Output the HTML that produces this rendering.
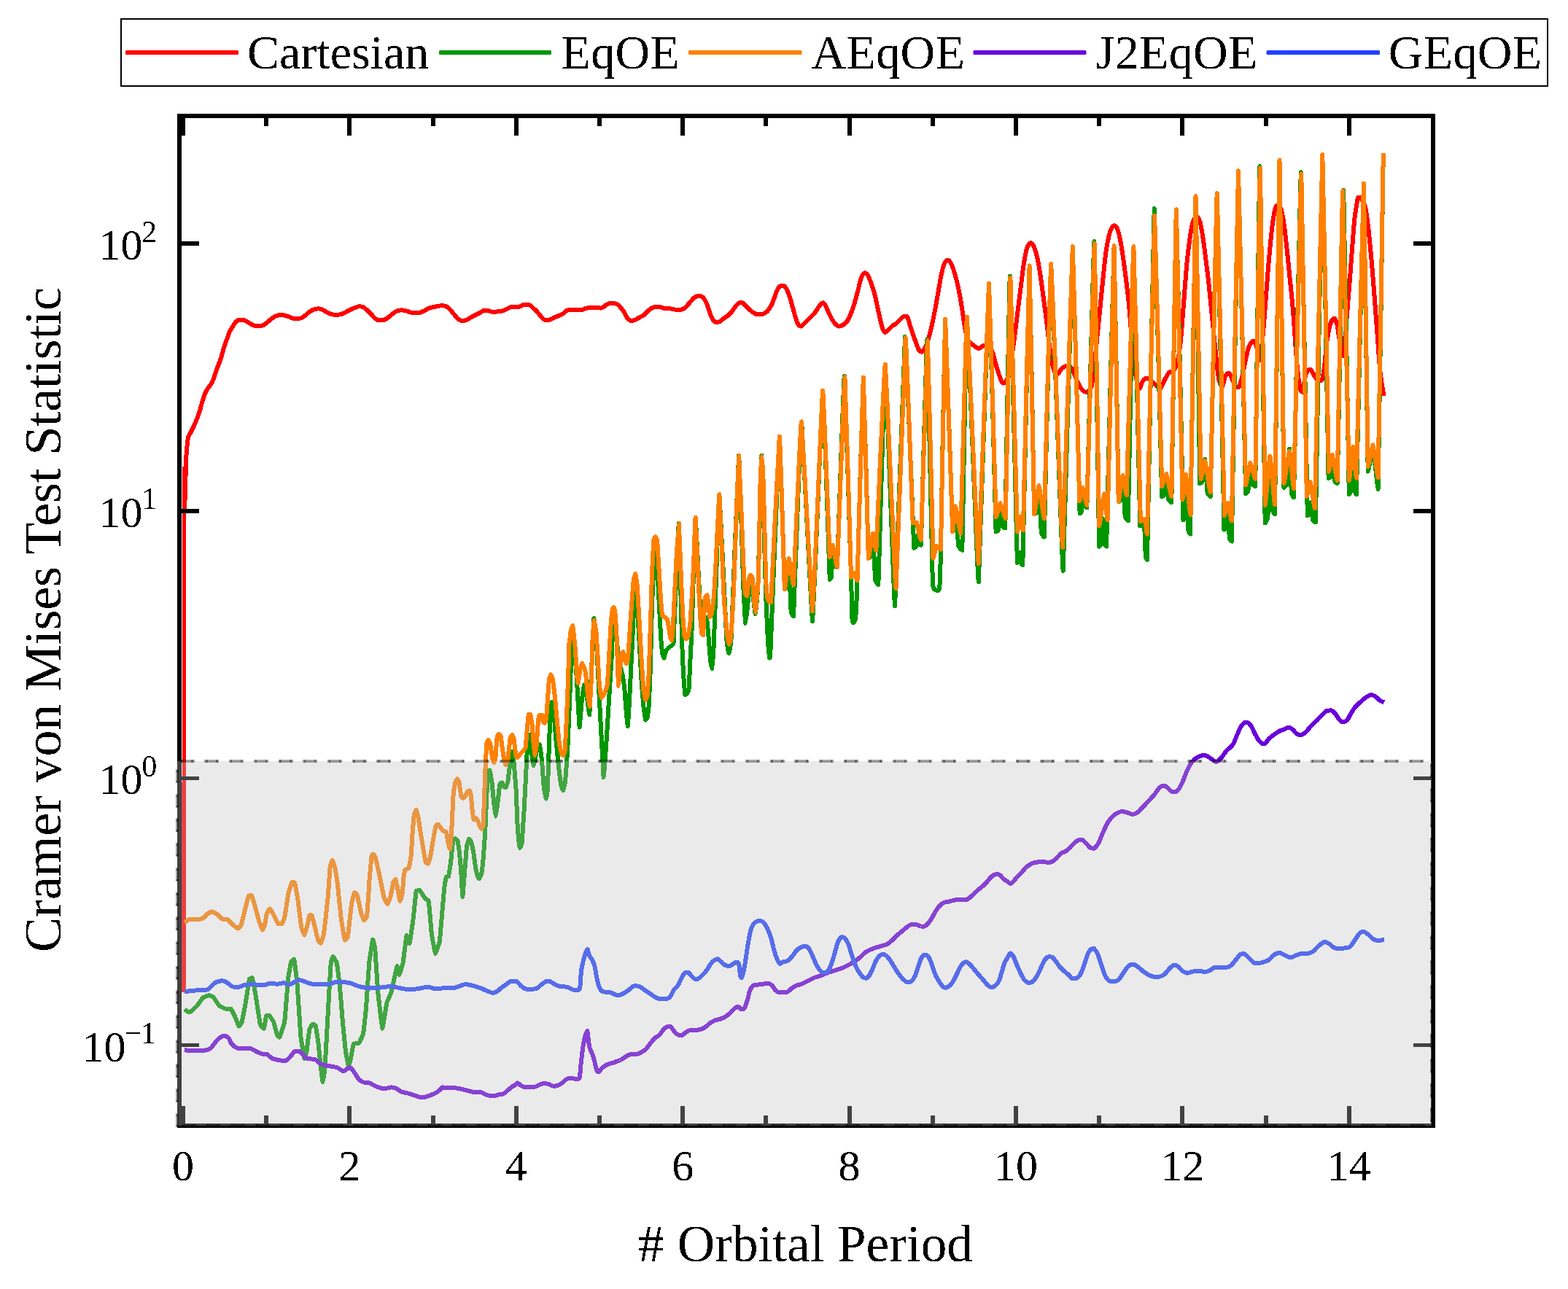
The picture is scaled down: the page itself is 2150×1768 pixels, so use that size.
<!DOCTYPE html>
<html lang="en"><head><meta charset="utf-8"><title>Cramer von Mises Test Statistic</title>
<style>html,body{margin:0;padding:0;background:#fff}body{width:2150px;height:1768px;overflow:hidden}svg{display:block}text{font-family:'Liberation Serif', 'DejaVu Serif', serif;fill:#000}</style>
</head><body>
<svg width="2150" height="1768" viewBox="0 0 2150 1768">
<defs><filter id="crisp" x="-5%" y="-5%" width="110%" height="110%" color-interpolation-filters="sRGB"><feComponentTransfer><feFuncA type="discrete" tableValues="0 1"/></feComponentTransfer></filter></defs>
<rect width="2150" height="1768" fill="#fff"/>
<g fill="#ff0000" shape-rendering="crispEdges"><rect x="249" y="1073" width="6" height="288"/><rect x="250" y="640" width="5" height="434"/></g>
<g fill="none" stroke-width="6" stroke-linejoin="round" stroke-linecap="butt" shape-rendering="crispEdges" transform="scale(1,1.00)">
<path stroke="#ff0000" d="M252.6,700.0 C252.7,698.5 253.0,692.6 253.2,690.0 C253.4,687.4 253.4,690.0 253.7,682.4 C254.0,673.8 254.7,642.6 255.1,632.0 C255.5,621.5 256.1,616.7 256.5,611.9 C257.0,607.0 257.5,602.5 258.1,599.8 C258.8,597.1 260.1,595.8 261.2,593.7 C262.2,591.6 264.0,588.2 265.2,585.7 C266.4,583.1 268.0,579.6 269.2,576.6 C270.4,573.6 272.1,569.3 273.3,565.5 C274.5,561.7 276.1,555.3 277.3,551.4 C278.5,547.5 280.1,542.2 281.3,539.3 C282.5,536.4 284.0,534.4 285.4,532.2 C286.7,530.1 289.0,527.7 290.4,525.2 C291.8,522.6 293.2,518.4 294.4,515.1 C295.7,511.8 297.3,506.3 298.5,503.0 C299.7,499.7 301.3,496.5 302.5,492.9 C303.7,489.3 305.3,482.7 306.5,478.8 C307.7,474.9 309.4,470.2 310.6,466.7 C311.8,463.2 313.4,458.3 314.6,455.6 C315.8,452.9 317.4,450.5 318.6,448.6 C319.8,446.6 321.5,443.9 322.7,442.5 C323.9,441.1 325.5,439.7 326.7,439.1 C327.9,438.5 329.4,438.5 330.7,438.5 C332.1,438.6 334.3,439.1 335.8,439.7 C337.3,440.3 339.3,441.6 340.8,442.5 C342.3,443.4 344.3,444.8 345.9,445.5 C347.4,446.2 349.2,446.9 350.9,447.1 C352.6,447.1 355.3,447.1 356.9,447.1 C358.6,446.9 360.5,446.4 362.0,445.5 C363.5,444.7 365.5,442.7 367.0,441.5 C368.5,440.3 370.6,438.6 372.1,437.5 C373.6,436.3 375.6,434.8 377.1,434.0 C378.6,433.3 380.3,432.7 382.2,432.4 C384.0,432.4 387.2,432.4 389.2,432.4 C391.2,432.7 393.4,433.4 395.3,434.0 C397.1,434.6 399.5,435.9 401.3,436.5 C403.1,437.0 405.5,437.5 407.4,437.5 C409.2,437.4 411.7,436.7 413.4,436.1 C415.1,435.4 416.9,434.0 418.4,432.8 C420.0,431.7 421.8,429.6 423.5,428.4 C425.1,427.2 427.6,425.5 429.5,424.8 C431.5,424.0 434.8,423.4 436.6,423.4 C438.4,423.4 440.0,423.7 441.6,424.4 C443.3,425.1 445.9,427.0 447.7,428.0 C449.5,429.0 451.9,430.2 453.7,430.8 C455.5,431.4 458.0,431.7 459.8,431.8 C461.6,431.8 464.0,431.8 465.8,431.4 C467.6,431.1 470.1,430.2 471.9,429.4 C473.7,428.6 476.0,427.0 477.9,426.0 C479.9,425.0 482.9,423.6 485.0,422.7 C487.1,421.9 490.1,420.5 492.0,420.3 C494.0,420.3 496.3,420.5 498.1,421.3 C499.9,422.2 502.3,424.3 504.1,426.0 C506.0,427.6 508.5,430.7 510.2,432.4 C511.9,434.1 513.7,436.4 515.2,437.5 C516.7,438.5 518.6,439.3 520.3,439.5 C521.9,439.5 524.5,439.5 526.3,438.9 C528.1,438.3 530.6,436.7 532.4,435.4 C534.2,434.2 536.6,431.8 538.4,430.4 C540.2,429.0 542.7,427.1 544.5,426.4 C546.3,425.6 548.7,425.4 550.5,425.4 C552.3,425.4 554.7,425.9 556.6,426.4 C558.4,426.8 560.8,427.9 562.6,428.4 C564.4,428.8 566.8,429.3 568.7,429.4 C570.5,429.4 572.9,429.4 574.7,429.0 C576.5,428.6 578.9,427.6 580.8,426.8 C582.6,425.9 585.0,424.2 586.8,423.4 C588.6,422.5 591.0,421.8 592.9,421.3 C594.7,420.9 597.1,420.6 598.9,420.3 C600.7,420.0 603.1,419.4 605.0,419.3 C606.8,419.3 609.3,419.3 611.0,419.9 C612.7,420.5 614.5,421.9 616.0,423.4 C617.6,424.8 619.6,427.6 621.1,429.4 C622.6,431.2 624.6,433.9 626.1,435.4 C627.6,437.0 629.7,438.8 631.2,439.5 C632.7,439.9 634.7,439.9 636.2,439.9 C637.7,439.7 639.6,438.9 641.3,438.1 C642.9,437.3 645.5,435.4 647.3,434.4 C649.1,433.4 651.7,432.3 653.3,431.4 C655.0,430.6 656.9,429.6 658.4,428.8 C659.9,428.0 661.7,426.4 663.2,426.0 C664.7,426.0 666.7,426.0 668.2,426.0 C669.7,426.2 671.8,427.1 673.3,427.4 C674.8,427.7 676.8,428.0 678.3,428.0 C679.8,428.0 681.8,427.2 683.4,427.0 C684.9,426.8 686.7,427.0 688.4,426.6 C690.1,426.2 692.6,424.9 694.4,424.0 C696.3,423.2 698.7,421.5 700.5,421.0 C702.3,420.6 704.7,420.6 706.5,420.6 C708.4,420.6 710.9,420.6 712.6,420.6 C714.3,420.2 716.1,418.4 717.6,418.0 C719.1,417.6 721.3,417.6 722.7,417.6 C724.0,417.6 725.3,417.6 726.7,418.4 C728.1,419.2 730.2,421.5 731.7,423.0 C733.3,424.4 735.3,426.4 736.8,428.0 C738.3,429.7 740.5,432.6 741.8,434.1 C743.2,435.6 744.6,437.4 745.9,438.1 C747.1,438.9 748.5,439.1 749.9,439.1 C751.3,439.1 753.3,438.7 754.9,438.1 C756.6,437.5 759.2,435.9 761.0,435.1 C762.8,434.3 765.4,433.4 767.0,432.7 C768.7,431.9 770.6,431.1 772.1,430.1 C773.6,429.1 775.7,426.8 777.1,426.0 C778.5,425.2 779.3,424.8 781.1,424.6 C783.0,424.6 786.8,425.0 789.2,425.0 C791.6,425.0 795.2,425.0 797.3,425.0 C799.4,424.7 801.4,423.5 803.3,423.0 C805.3,422.5 808.3,421.8 810.4,421.6 C812.5,421.6 815.5,421.6 817.4,421.6 C819.4,421.7 822.0,422.6 823.5,422.6 C825.0,422.5 826.3,421.7 827.5,421.0 C828.7,420.3 830.2,418.7 831.6,418.0 C832.9,417.2 835.1,416.2 836.6,415.9 C838.1,415.9 840.1,415.9 841.6,415.9 C843.1,416.2 845.2,416.6 846.7,417.6 C848.2,418.6 850.4,421.0 851.7,422.6 C853.1,424.2 854.7,426.3 855.7,428.0 C856.8,429.8 857.9,432.6 858.8,434.1 C859.7,435.6 860.7,437.2 861.8,438.1 C862.9,439.0 864.5,440.0 865.8,440.1 C867.2,440.1 869.2,439.4 870.9,438.7 C872.5,438.0 875.1,436.5 876.9,435.5 C878.7,434.5 881.3,433.3 883.0,432.1 C884.6,430.8 886.5,428.4 888.0,427.0 C889.5,425.7 891.5,423.9 893.0,423.0 C894.6,422.1 896.4,421.3 898.1,421.0 C899.8,421.0 902.3,421.0 904.1,421.0 C906.0,421.2 908.2,422.3 910.2,422.6 C912.2,422.9 915.1,422.7 917.2,423.0 C919.4,423.3 922.2,424.1 924.3,424.4 C926.4,424.7 929.4,425.0 931.4,425.0 C933.3,424.9 935.7,424.3 937.4,423.4 C939.1,422.5 940.9,420.5 942.4,419.0 C944.0,417.4 946.0,414.6 947.5,412.9 C949.0,411.3 951.0,408.9 952.5,407.9 C954.0,406.8 956.2,406.1 957.6,405.9 C958.9,405.9 960.4,405.9 961.6,406.5 C962.8,407.1 964.4,408.2 965.6,409.9 C966.8,411.6 968.6,415.4 969.7,418.0 C970.7,420.5 971.8,424.5 972.7,427.0 C973.6,429.6 974.8,433.1 975.7,435.1 C976.6,437.1 977.7,439.1 978.7,440.1 C979.8,441.2 981.6,442.0 982.8,442.2 C984.0,442.2 985.4,441.9 986.8,441.1 C988.2,440.4 990.2,438.3 991.8,437.1 C993.5,435.9 996.2,434.4 997.9,433.1 C999.6,431.7 1001.4,429.9 1002.9,428.0 C1004.5,426.2 1006.6,422.7 1008.0,421.0 C1009.3,419.3 1010.8,417.5 1012.0,416.5 C1013.2,415.6 1015.0,415.0 1016.0,414.9 C1017.1,414.9 1018.0,415.2 1019.1,415.9 C1020.1,416.7 1021.7,418.6 1023.1,420.0 C1024.5,421.3 1026.6,423.7 1028.1,425.0 C1029.7,426.4 1031.7,428.1 1033.2,429.0 C1034.7,430.0 1037.2,431.2 1038.2,431.5 C1039.2,431.5 1038.8,431.0 1040.0,430.9 C1041.2,430.9 1044.2,430.9 1046.0,430.9 C1047.9,430.3 1050.3,428.8 1052.1,426.8 C1053.9,424.9 1056.3,421.5 1058.1,417.8 C1060.0,414.0 1062.7,405.3 1064.2,401.6 C1065.7,398.0 1067.0,395.1 1068.2,393.6 C1069.5,392.1 1071.3,391.6 1072.7,391.6 C1074.0,391.7 1075.9,392.5 1077.3,394.6 C1078.8,396.7 1081.0,401.9 1082.3,405.7 C1083.7,409.4 1085.2,415.5 1086.4,419.8 C1087.6,424.0 1089.2,430.1 1090.4,433.9 C1091.6,437.7 1093.2,442.9 1094.4,445.0 C1095.7,447.0 1097.0,447.6 1098.5,447.6 C1100.0,447.2 1102.7,443.7 1104.5,442.0 C1106.3,440.2 1108.8,437.7 1110.6,435.9 C1112.4,434.1 1114.8,432.1 1116.6,429.9 C1118.4,427.6 1121.3,422.8 1122.7,420.8 C1124.0,418.8 1124.8,417.6 1125.7,416.8 C1126.6,415.9 1127.8,415.3 1128.7,415.3 C1129.6,415.6 1130.7,416.9 1131.7,418.8 C1132.8,420.6 1134.4,425.0 1135.8,427.8 C1137.1,430.7 1139.3,435.4 1140.8,437.9 C1142.3,440.5 1144.4,443.5 1145.9,445.0 C1147.3,446.4 1148.8,447.6 1150.5,447.6 C1152.2,447.6 1155.2,446.1 1156.9,445.0 C1158.7,443.8 1160.6,441.9 1162.0,439.9 C1163.3,438.0 1164.7,435.2 1166.0,431.9 C1167.4,428.6 1169.5,422.6 1171.1,417.8 C1172.6,412.9 1174.7,404.8 1176.1,399.6 C1177.5,394.5 1179.1,387.0 1180.1,383.5 C1181.2,380.0 1182.3,377.8 1183.2,376.4 C1184.0,375.1 1184.9,374.4 1185.8,374.4 C1186.7,374.4 1187.9,374.5 1189.2,376.4 C1190.5,378.4 1192.7,383.4 1194.2,387.5 C1195.8,391.6 1197.9,398.5 1199.3,403.6 C1200.7,408.8 1202.1,416.4 1203.3,421.8 C1204.5,427.2 1206.3,435.6 1207.4,439.9 C1208.4,444.3 1209.5,448.6 1210.4,451.0 C1211.3,453.5 1212.2,455.9 1213.4,456.1 C1214.6,456.1 1216.9,453.4 1218.4,452.0 C1220.0,450.7 1222.0,448.2 1223.5,447.0 C1225.0,445.8 1227.0,445.2 1228.5,444.0 C1230.0,442.8 1232.2,440.3 1233.6,438.9 C1234.9,437.6 1236.4,435.7 1237.6,434.9 C1238.8,434.1 1240.6,433.5 1241.6,433.5 C1242.7,433.6 1243.8,434.0 1244.7,435.9 C1245.6,437.8 1246.6,442.7 1247.7,446.0 C1248.7,449.3 1250.4,454.2 1251.7,458.1 C1253.1,462.0 1255.4,468.7 1256.8,472.2 C1258.1,475.7 1259.7,479.7 1260.8,481.3 C1261.8,482.7 1262.8,482.7 1263.8,482.7 C1264.9,482.2 1266.6,480.4 1267.8,478.3 C1269.1,476.1 1270.5,472.4 1271.9,468.2 C1273.2,463.9 1275.4,456.4 1276.9,450.0 C1278.4,443.7 1280.4,433.7 1282.0,425.8 C1283.5,418.0 1285.6,405.2 1287.0,397.6 C1288.4,390.0 1289.8,380.9 1291.0,375.4 C1292.2,370.0 1293.8,364.1 1295.1,361.3 C1296.3,358.5 1298.1,356.9 1299.5,356.9 C1300.9,356.9 1302.7,358.5 1304.1,361.3 C1305.6,364.1 1307.7,370.3 1309.2,375.4 C1310.7,380.6 1312.9,389.2 1314.2,395.6 C1315.6,401.9 1317.2,411.4 1318.3,417.8 C1319.3,424.1 1320.4,432.2 1321.3,437.9 C1322.2,443.7 1323.2,451.5 1324.3,456.1 C1325.4,460.6 1326.8,465.6 1328.3,468.2 C1329.8,470.7 1332.9,472.0 1334.4,473.2 C1335.9,474.4 1337.2,475.5 1338.4,476.2 C1339.6,476.9 1340.9,477.9 1342.4,477.9 C1344.0,477.5 1346.7,474.9 1348.5,474.2 C1350.3,473.5 1352.7,473.2 1354.5,473.2 C1356.4,474.4 1359.1,478.8 1360.6,482.3 C1362.1,485.8 1363.4,492.2 1364.6,496.4 C1365.8,500.6 1367.5,506.7 1368.7,510.5 C1369.9,514.3 1371.6,519.3 1372.7,521.6 C1373.8,523.9 1374.5,525.6 1375.7,525.6 C1376.9,525.5 1379.4,524.1 1380.8,520.6 C1382.1,517.1 1383.4,509.7 1384.8,502.4 C1386.2,495.2 1388.3,482.8 1389.8,472.2 C1391.3,461.6 1393.4,444.0 1394.9,431.9 C1396.4,419.8 1398.6,402.1 1399.9,391.6 C1401.3,381.0 1402.7,368.9 1403.9,361.3 C1405.2,353.7 1406.6,345.4 1408.0,341.1 C1409.3,336.9 1411.5,333.4 1413.0,333.1 C1414.5,333.1 1416.6,335.5 1418.1,339.1 C1419.6,342.8 1421.7,350.9 1423.1,357.3 C1424.5,363.6 1425.9,373.3 1427.1,381.5 C1428.3,389.6 1430.0,402.6 1431.2,411.7 C1432.4,420.8 1434.1,433.5 1435.2,442.0 C1436.3,450.4 1437.3,460.9 1438.2,468.2 C1439.1,475.4 1440.3,484.9 1441.3,490.4 C1442.2,495.8 1443.2,500.8 1444.3,504.5 C1445.3,508.1 1447.4,513.2 1448.3,514.5 C1449.2,514.5 1448.8,514.5 1450.0,513.6 C1451.2,512.3 1454.2,507.3 1456.0,505.6 C1457.9,503.8 1460.1,502.3 1462.1,502.1 C1464.1,502.1 1467.0,502.1 1469.2,504.5 C1471.3,507.3 1474.2,516.4 1476.2,520.7 C1478.2,524.9 1480.3,530.2 1482.3,532.8 C1484.2,535.3 1487.2,537.8 1489.3,537.8 C1491.4,537.5 1494.7,536.1 1496.4,530.8 C1498.0,525.5 1499.2,512.8 1500.4,502.5 C1501.6,492.2 1503.2,474.3 1504.4,462.2 C1505.7,450.1 1507.3,434.0 1508.5,421.9 C1509.7,409.8 1511.3,393.0 1512.5,381.6 C1513.7,370.1 1515.3,354.0 1516.5,345.3 C1517.7,336.5 1519.4,328.1 1520.6,323.1 C1521.8,318.1 1523.5,314.0 1524.6,312.0 C1525.7,309.9 1527.0,309.4 1528.0,309.4 C1529.1,309.5 1530.5,310.3 1531.7,313.0 C1532.8,315.7 1534.5,321.4 1535.7,327.1 C1536.9,332.9 1538.5,343.1 1539.7,351.3 C1540.9,359.5 1542.5,371.9 1543.8,381.6 C1545.0,391.2 1546.7,405.2 1547.8,415.8 C1548.9,426.4 1549.9,442.1 1550.8,452.1 C1551.7,462.1 1553.1,474.5 1553.8,482.4 C1554.6,490.2 1555.1,498.5 1555.9,504.5 C1556.6,510.6 1557.9,518.5 1558.9,522.7 C1559.9,526.9 1561.3,532.8 1562.5,532.8 C1563.7,532.8 1565.5,524.8 1566.9,522.7 C1568.4,520.6 1570.2,518.7 1572.0,518.7 C1573.8,518.7 1576.8,520.9 1579.0,522.7 C1581.3,524.5 1585.3,529.2 1587.1,530.8 C1588.9,532.3 1589.6,532.8 1591.1,532.8 C1592.7,531.3 1595.4,524.0 1597.2,520.7 C1599.0,517.4 1601.4,512.4 1603.2,510.6 C1605.1,508.8 1607.5,510.6 1609.3,508.6 C1611.1,505.9 1613.8,499.4 1615.3,492.4 C1616.9,485.5 1618.2,474.3 1619.4,462.2 C1620.6,450.1 1622.2,426.9 1623.4,411.8 C1624.6,396.7 1626.2,374.1 1627.4,361.4 C1628.6,348.7 1630.3,335.6 1631.5,327.1 C1632.7,318.6 1634.1,309.5 1635.5,304.9 C1636.9,300.4 1639.0,296.9 1640.5,296.9 C1642.1,296.9 1644.2,300.4 1645.6,304.9 C1646.9,309.5 1648.4,319.2 1649.6,327.1 C1650.8,335.0 1652.4,347.7 1653.6,357.4 C1654.9,367.0 1656.5,380.4 1657.7,391.6 C1658.9,402.8 1660.5,419.9 1661.7,432.0 C1662.9,444.1 1664.7,461.7 1665.7,472.3 C1666.8,482.9 1667.9,495.0 1668.8,502.5 C1669.7,510.1 1670.7,518.5 1671.8,522.7 C1672.9,526.9 1674.6,530.8 1675.8,530.8 C1677.0,529.9 1678.5,519.5 1679.9,516.6 C1681.2,513.8 1683.4,511.6 1684.9,511.6 C1686.4,512.2 1688.4,517.8 1689.9,520.7 C1691.5,523.6 1693.6,529.2 1695.0,530.8 C1696.3,530.8 1697.7,530.8 1699.0,530.8 C1700.4,528.0 1702.7,518.4 1704.1,512.6 C1705.4,506.9 1706.9,497.9 1708.1,492.4 C1709.3,487.0 1710.9,479.8 1712.1,476.3 C1713.3,472.8 1715.1,470.5 1716.2,469.3 C1717.2,468.0 1718.1,467.9 1719.2,467.9 C1720.2,468.9 1721.9,472.3 1723.2,476.3 C1724.5,480.3 1726.5,494.5 1727.9,494.5 C1729.2,490.8 1731.0,466.0 1732.3,452.1 C1733.6,438.2 1735.1,416.8 1736.3,401.7 C1737.5,386.6 1739.1,364.9 1740.4,351.3 C1741.6,337.7 1743.2,320.7 1744.4,311.0 C1745.6,301.3 1747.3,291.2 1748.4,286.8 C1749.5,282.4 1750.6,281.7 1751.8,281.7 C1753.1,281.7 1755.2,283.0 1756.5,286.8 C1757.8,290.6 1759.3,298.8 1760.5,306.9 C1761.7,315.1 1763.3,330.0 1764.5,341.2 C1765.8,352.4 1767.4,369.5 1768.6,381.6 C1769.8,393.6 1771.6,409.8 1772.6,421.9 C1773.7,434.0 1774.7,450.1 1775.6,462.2 C1776.5,474.3 1777.7,492.2 1778.7,502.5 C1779.7,512.8 1781.2,525.5 1782.3,530.8 C1783.4,536.1 1784.4,537.8 1785.7,537.8 C1787.0,535.1 1789.1,517.3 1790.8,512.6 C1792.4,507.9 1795.0,506.6 1796.8,506.6 C1798.6,507.2 1801.2,514.2 1802.9,516.6 C1804.5,519.1 1806.4,522.1 1807.9,522.7 C1809.4,522.7 1811.7,522.7 1812.9,520.7 C1814.1,517.7 1815.1,509.8 1816.0,502.5 C1816.9,495.3 1817.9,480.5 1819.0,472.3 C1820.0,464.1 1821.8,453.2 1823.0,448.1 C1824.2,442.9 1826.0,439.7 1827.1,438.0 C1828.1,437.0 1829.2,437.0 1830.1,437.0 C1831.0,437.9 1832.2,440.3 1833.1,444.1 C1834.0,447.8 1835.2,456.8 1836.1,462.2 C1837.0,467.6 1838.2,476.4 1839.2,480.4 C1840.1,484.3 1841.3,488.4 1842.2,488.4 C1843.1,484.2 1844.0,466.6 1845.2,452.1 C1846.4,437.6 1849.0,406.8 1850.2,391.6 C1851.5,376.5 1852.2,364.9 1853.3,351.3 C1854.3,337.7 1856.1,312.4 1857.3,300.9 C1858.5,289.4 1860.5,279.2 1861.3,274.7 C1862.2,270.6 1861.9,270.6 1862.9,270.6 C1864.0,270.6 1866.6,272.0 1868.1,275.0 C1869.7,278.1 1871.5,278.9 1873.3,290.6 C1875.1,302.3 1878.2,330.5 1880.2,352.8 C1882.3,375.1 1885.3,415.9 1887.1,439.2 C1889.0,462.5 1890.8,492.8 1892.3,508.3 C1893.9,523.9 1896.7,537.7 1897.5,542.9"/>
<path stroke="#009600" d="M252.9,1384.5 C253.2,1384.7 259.5,1388.5 260.2,1388.5 C260.9,1388.3 269.5,1380.3 270.2,1379.5 C271.0,1378.6 277.7,1368.9 278.3,1368.4 C279.0,1367.8 285.8,1365.4 286.4,1365.3 C286.9,1365.3 291.9,1366.8 292.4,1367.4 C293.0,1367.9 299.8,1378.8 300.5,1379.5 C301.1,1380.1 307.9,1383.3 308.6,1383.5 C309.2,1383.5 316.1,1383.5 316.6,1383.5 C317.2,1384.0 322.2,1394.6 322.7,1395.6 C323.1,1396.6 327.3,1407.4 327.7,1407.7 C328.1,1407.7 331.4,1402.9 331.7,1401.6 C332.1,1400.3 336.4,1377.8 336.8,1375.4 C337.2,1373.1 341.5,1344.5 341.8,1343.2 C342.2,1341.8 345.5,1341.1 345.9,1341.1 C346.2,1341.9 349.4,1358.7 349.9,1361.3 C350.3,1363.9 356.5,1403.7 356.9,1405.7 C357.4,1407.6 361.7,1410.7 362.0,1410.7 C362.3,1410.2 364.7,1394.3 365.0,1393.6 C365.3,1392.8 368.6,1392.6 369.0,1392.6 C369.4,1392.9 374.7,1400.5 375.1,1401.6 C375.5,1402.7 379.8,1418.9 380.1,1419.8 C380.5,1420.6 382.8,1422.8 383.2,1422.8 C383.6,1422.1 389.7,1404.9 390.2,1401.6 C390.7,1398.4 394.9,1344.5 395.3,1341.1 C395.6,1337.8 399.0,1320.0 399.3,1319.0 C399.6,1318.0 403.0,1315.9 403.3,1315.9 C403.6,1317.1 407.0,1343.0 407.4,1347.2 C407.7,1351.4 412.0,1417.6 412.4,1421.8 C412.8,1426.0 417.1,1451.2 417.4,1452.0 C417.8,1452.0 420.2,1443.6 420.5,1442.0 C420.7,1440.3 424.2,1413.2 424.5,1411.7 C424.8,1410.2 428.2,1404.9 428.5,1404.7 C428.8,1404.7 432.2,1405.6 432.6,1406.7 C432.9,1407.8 436.3,1429.7 436.6,1431.9 C436.9,1434.1 439.4,1460.0 439.6,1462.1 C439.9,1464.2 442.4,1484.3 442.6,1484.3 C442.9,1484.3 445.3,1466.6 445.7,1462.1 C446.0,1457.6 450.4,1377.0 450.7,1371.4 C451.0,1365.7 453.5,1323.4 453.7,1321.0 C454.0,1318.6 456.4,1311.9 456.8,1311.9 C457.1,1311.9 461.4,1319.4 461.8,1321.0 C462.2,1322.6 465.5,1348.0 465.8,1351.2 C466.2,1354.5 469.5,1398.0 469.9,1401.6 C470.2,1405.3 473.6,1439.5 473.9,1442.0 C474.2,1444.4 477.6,1461.7 477.9,1462.1 C478.2,1462.1 480.7,1453.3 481.0,1452.0 C481.2,1450.8 484.5,1432.7 485.0,1431.9 C485.4,1431.0 491.5,1431.4 492.0,1430.9 C492.6,1430.3 497.7,1419.7 498.1,1417.8 C498.5,1415.8 501.8,1385.3 502.1,1381.5 C502.4,1377.6 505.8,1324.7 506.2,1321.0 C506.5,1317.3 510.9,1289.5 511.2,1288.7 C511.5,1288.7 513.9,1297.9 514.2,1300.8 C514.5,1303.7 517.9,1356.9 518.3,1361.3 C518.7,1365.7 523.8,1410.1 524.3,1410.7 C524.8,1410.7 529.9,1377.4 530.4,1375.4 C530.8,1373.4 535.8,1363.3 536.4,1361.3 C537.0,1359.3 544.0,1326.0 544.5,1325.0 C544.9,1325.0 547.2,1337.1 547.5,1337.1 C547.8,1336.9 552.1,1323.2 552.5,1321.0 C552.9,1318.8 557.2,1283.8 557.6,1282.7 C557.9,1282.7 561.2,1293.8 561.6,1293.8 C562.0,1292.9 566.3,1263.4 566.6,1260.5 C567.0,1257.6 570.3,1223.8 570.7,1222.2 C571.0,1221.2 575.2,1221.2 575.7,1221.2 C576.2,1221.6 582.3,1231.7 582.8,1232.3 C583.3,1232.9 587.5,1234.4 587.8,1236.3 C588.2,1238.2 591.5,1277.8 591.8,1280.7 C592.2,1283.5 596.4,1307.5 596.9,1307.9 C597.3,1307.9 602.5,1294.2 602.9,1290.7 C603.4,1287.2 608.6,1223.7 609.0,1220.2 C609.4,1216.6 611.8,1203.5 612.0,1202.8 C612.3,1202.1 614.8,1202.8 615.0,1202.0 C615.3,1201.2 617.8,1184.6 618.1,1182.7 C618.3,1180.8 620.8,1155.7 621.1,1154.4 C621.3,1153.1 623.9,1150.5 624.1,1150.4 C624.4,1150.4 626.9,1151.8 627.1,1152.4 C627.4,1153.1 629.4,1164.9 629.6,1166.5 C629.8,1168.2 632.0,1191.4 632.2,1194.0 C632.4,1196.5 634.0,1230.0 634.2,1230.2 C634.4,1230.2 636.6,1202.4 636.8,1200.0 C637.0,1197.6 639.1,1171.4 639.2,1169.8 C639.4,1168.2 639.8,1160.9 640.0,1160.1 C640.2,1159.4 642.8,1151.3 643.0,1151.0 C643.3,1151.0 645.8,1153.4 646.0,1154.1 C646.3,1154.7 648.8,1166.7 649.1,1168.2 C649.3,1169.6 651.9,1189.0 652.1,1190.4 C652.3,1191.7 654.9,1201.8 655.1,1202.4 C655.3,1203.1 656.9,1205.5 657.1,1205.5 C657.3,1205.3 659.9,1199.5 660.2,1198.4 C660.4,1197.3 662.4,1180.5 662.6,1178.3 C662.8,1176.0 665.0,1145.4 665.2,1142.0 C665.4,1138.5 667.1,1094.9 667.2,1091.6 C667.4,1088.2 669.1,1060.7 669.2,1059.3 C669.4,1057.9 671.1,1056.3 671.3,1056.3 C671.5,1056.7 674.0,1069.6 674.3,1071.4 C674.5,1073.2 677.1,1099.7 677.3,1101.6 C677.5,1103.6 679.5,1119.8 679.7,1119.8 C679.9,1119.8 682.1,1103.4 682.3,1101.6 C682.6,1099.9 685.1,1076.6 685.4,1075.4 C685.6,1074.3 688.2,1073.4 688.4,1073.4 C688.6,1073.6 691.2,1079.2 691.4,1079.5 C691.6,1079.7 693.2,1080.5 693.4,1080.5 C693.6,1080.1 696.2,1072.8 696.5,1071.4 C696.7,1070.0 699.3,1046.8 699.5,1045.2 C699.7,1043.6 701.9,1031.1 702.1,1031.1 C702.3,1031.1 704.3,1043.2 704.5,1045.2 C704.7,1047.2 707.3,1078.0 707.5,1081.5 C707.7,1084.9 709.4,1128.9 709.6,1131.9 C709.7,1134.9 711.4,1154.8 711.6,1156.1 C711.7,1157.3 712.8,1163.1 713.0,1163.1 C713.2,1163.1 715.4,1158.1 715.6,1156.1 C715.8,1154.0 718.4,1115.9 718.6,1111.7 C718.9,1107.5 721.5,1055.2 721.7,1051.2 C721.9,1047.3 723.5,1014.6 723.7,1012.9 C723.8,1011.2 725.5,1007.9 725.7,1007.9 C725.9,1008.6 728.5,1029.4 728.7,1031.1 C729.0,1032.8 731.5,1049.8 731.7,1050.2 C731.9,1050.2 733.6,1042.2 733.8,1041.1 C734.0,1040.1 736.5,1025.8 736.8,1025.0 C737.0,1024.2 739.6,1021.0 739.8,1021.0 C740.1,1021.6 742.6,1038.7 742.8,1041.1 C743.1,1043.6 745.6,1079.3 745.9,1081.5 C746.1,1083.6 748.7,1095.6 748.9,1095.6 C749.1,1095.6 750.7,1084.5 750.9,1081.5 C751.1,1078.5 752.8,1025.4 752.9,1021.0 C753.1,1016.5 754.8,972.9 754.9,970.6 C755.1,968.2 756.8,962.5 756.9,962.5 C757.1,962.5 758.8,968.6 759.0,970.6 C759.2,972.5 761.7,1007.7 762.0,1010.9 C762.3,1014.1 765.7,1048.6 766.0,1051.2 C766.3,1053.8 768.8,1074.1 769.0,1075.4 C769.3,1076.8 771.8,1084.5 772.1,1084.5 C772.3,1084.3 774.9,1073.5 775.1,1071.4 C775.3,1069.3 777.9,1035.5 778.1,1031.1 C778.4,1026.6 780.9,967.4 781.1,960.5 C781.4,953.6 784.8,859.2 785.2,858.1 C785.6,858.1 790.6,927.3 791.0,932.8 C791.3,938.4 794.3,996.5 794.6,997.6 C794.8,997.6 797.5,964.0 797.7,961.6 C798.0,959.3 800.8,939.6 801.0,939.3 C801.3,939.3 804.4,952.8 804.6,954.4 C804.9,956.1 808.0,980.4 808.3,980.4 C808.5,978.9 810.9,923.7 811.1,918.4 C811.4,913.1 814.2,849.9 814.4,848.1 C814.7,848.1 817.1,866.5 817.6,875.2 C818.1,883.9 827.0,1060.8 827.6,1066.2 C828.1,1066.2 831.7,1014.2 832.0,1010.0 C832.3,1005.9 834.6,965.9 834.9,961.6 C835.2,957.4 838.2,909.2 838.5,904.0 C838.8,898.9 841.3,833.0 841.7,833.0 C842.1,833.0 847.7,900.3 848.1,904.0 C848.6,907.7 853.3,923.9 853.6,925.6 C854.0,927.4 856.3,945.2 856.5,947.2 C856.7,949.3 858.5,974.1 858.7,976.0 C858.8,978.0 860.6,996.2 860.8,996.2 C861.0,995.6 862.8,964.8 863.0,961.6 C863.2,958.5 864.9,922.5 865.1,918.4 C865.3,914.4 867.8,866.1 868.0,860.8 C868.3,855.6 870.7,787.1 871.2,787.1 C871.7,790.0 879.1,925.6 879.5,932.8 C880.0,940.1 882.2,966.7 882.4,968.8 C882.7,971.0 885.1,986.9 885.3,987.6 C885.5,987.6 887.3,985.4 887.5,984.7 C887.6,983.9 889.5,971.5 889.6,968.8 C889.8,966.2 891.6,923.9 891.8,918.4 C892.0,913.0 893.7,839.3 893.9,832.0 C894.2,824.7 898.2,736.1 898.6,736.1 C899.0,736.1 903.7,826.4 904.0,832.0 C904.3,837.6 906.0,872.6 906.2,875.2 C906.4,877.8 908.2,895.7 908.4,896.8 C908.5,897.9 910.3,902.6 910.5,902.6 C910.7,902.4 913.1,893.1 913.4,892.5 C913.7,891.9 916.7,888.5 917.0,888.2 C917.3,887.9 921.1,885.5 921.3,885.3 C921.6,885.1 923.3,884.0 923.5,882.4 C923.6,880.9 924.6,853.0 924.9,846.4 C925.2,839.8 930.4,717.9 930.8,717.9 C931.2,719.1 934.7,866.9 935.0,875.2 C935.2,883.5 937.0,922.5 937.2,925.6 C937.3,928.7 939.1,952.0 939.3,953.0 C939.5,953.0 942.0,951.9 942.2,951.6 C942.4,951.2 944.5,946.3 944.6,944.4 C944.8,942.5 946.4,907.4 946.5,904.0 C946.7,900.7 948.4,868.6 948.7,860.8 C949.0,853.0 953.1,709.7 953.6,709.7 C954.1,709.7 961.0,855.4 961.6,860.8 C962.3,860.8 968.4,846.4 968.8,846.4 C969.2,847.0 971.5,872.9 971.7,875.2 C971.9,877.5 973.7,902.4 973.9,904.0 C974.1,905.7 975.9,917.0 976.0,917.0 C976.2,916.7 978.1,899.1 978.2,896.8 C978.3,894.6 979.5,864.0 979.6,860.8 C979.8,857.7 980.8,824.9 981.1,817.6 C981.4,810.3 985.8,677.9 986.4,677.9 C987.0,680.2 995.7,866.5 996.2,875.2 C996.7,884.0 999.1,896.1 999.4,896.1 C999.6,896.1 1002.1,886.1 1002.7,875.2 C1003.2,864.4 1012.4,627.5 1013.1,624.6 C1013.7,624.6 1018.9,794.0 1019.3,803.2 C1019.6,812.4 1021.9,853.9 1022.1,855.1 C1022.4,855.1 1024.8,834.1 1025.0,832.0 C1025.2,829.9 1027.6,804.1 1027.9,803.2 C1028.2,803.2 1031.2,808.9 1031.5,810.4 C1031.8,812.0 1035.5,842.1 1035.8,842.1 C1036.1,841.8 1039.1,811.9 1039.4,803.2 C1039.8,794.5 1043.9,624.6 1044.3,624.6 C1044.7,625.2 1049.9,807.3 1050.2,817.6 C1050.6,827.9 1052.9,879.0 1053.1,882.4 C1053.3,885.8 1055.1,901.8 1055.3,902.6 C1055.4,902.6 1055.6,902.6 1056.1,900.9 C1056.7,888.8 1068.0,602.2 1068.8,598.5 C1069.6,598.5 1075.5,799.9 1075.9,808.2 C1076.3,808.2 1078.9,805.8 1079.1,804.1 C1079.3,802.5 1081.5,767.8 1081.7,767.8 C1082.0,769.2 1084.3,834.6 1084.6,837.7 C1084.8,840.8 1087.4,845.5 1088.0,845.5 C1088.6,835.1 1097.8,578.3 1098.9,578.3 C1099.9,578.6 1113.0,852.5 1114.2,852.5 C1115.4,850.8 1127.2,538.1 1128.1,535.8 C1129.1,535.8 1137.3,784.9 1137.8,795.1 C1138.3,795.1 1139.8,792.6 1140.0,790.9 C1140.2,789.3 1141.6,754.3 1141.8,753.7 C1142.0,753.7 1144.3,774.5 1144.5,775.5 C1144.8,776.5 1147.3,777.9 1147.9,777.9 C1148.4,767.5 1157.0,515.8 1157.8,515.8 C1158.5,516.4 1166.6,778.7 1167.0,792.0 C1167.5,805.3 1168.3,845.8 1168.4,848.3 C1168.5,850.8 1169.9,854.5 1170.1,854.5 C1170.2,854.5 1172.8,851.0 1173.0,848.7 C1173.3,846.4 1175.1,809.3 1175.5,796.1 C1175.9,782.8 1183.2,518.8 1183.8,517.6 C1184.4,517.6 1190.4,756.0 1190.8,765.8 C1191.2,765.8 1193.9,763.9 1194.1,762.6 C1194.4,761.3 1196.6,733.6 1196.9,733.6 C1197.1,734.9 1199.9,792.5 1200.2,795.3 C1200.5,798.0 1203.8,802.1 1204.3,802.1 C1204.9,790.3 1212.9,499.5 1213.8,499.5 C1214.7,500.6 1226.0,831.4 1227.1,831.4 C1228.2,829.9 1240.0,465.0 1241.0,461.8 C1242.1,461.8 1252.7,740.2 1253.3,751.7 C1253.9,751.7 1255.6,750.6 1255.8,749.9 C1255.9,749.2 1257.6,733.7 1257.8,733.6 C1257.9,733.6 1259.8,745.7 1260.0,746.3 C1260.2,746.8 1262.4,747.7 1262.8,747.7 C1263.3,736.5 1270.6,465.8 1271.3,465.8 C1271.9,468.0 1278.3,788.3 1278.9,802.1 C1279.5,810.2 1286.0,810.1 1286.4,810.2 C1286.8,810.2 1288.2,806.8 1288.4,804.5 C1288.5,802.3 1289.7,768.4 1290.0,753.7 C1290.3,739.1 1295.4,438.9 1296.1,438.0 C1296.7,438.0 1305.7,718.0 1306.2,729.5 C1306.6,729.5 1308.2,727.5 1308.4,726.2 C1308.5,724.9 1310.0,696.3 1310.2,696.3 C1310.4,697.2 1313.9,746.6 1314.3,748.9 C1314.6,751.2 1318.8,754.7 1319.3,754.7 C1319.7,742.2 1325.0,434.9 1325.9,434.9 C1326.8,436.7 1340.6,798.1 1341.8,798.1 C1343.0,796.2 1355.0,391.3 1356.0,388.6 C1356.9,388.6 1365.1,716.0 1365.6,729.5 C1366.2,729.5 1368.7,727.8 1369.0,726.7 C1369.2,725.6 1371.5,701.5 1371.7,701.3 C1371.9,701.3 1374.4,721.2 1374.7,722.2 C1374.9,723.1 1377.9,724.5 1378.3,724.5 C1378.7,710.8 1384.1,378.7 1384.8,378.7 C1385.5,380.6 1394.4,756.2 1394.9,771.9 C1395.4,771.9 1396.7,771.0 1396.9,770.5 C1397.0,769.9 1398.4,757.8 1398.5,757.8 C1398.6,757.9 1400.1,772.5 1400.2,773.2 C1400.4,773.9 1401.9,774.9 1402.3,774.9 C1402.8,758.6 1411.0,367.2 1411.6,364.4 C1412.2,364.4 1417.7,691.8 1418.1,705.3 C1418.5,705.3 1421.4,703.1 1421.6,701.6 C1421.9,700.1 1424.3,668.0 1424.5,668.0 C1424.8,669.2 1427.5,727.0 1427.8,729.7 C1428.1,732.5 1431.2,736.6 1431.8,736.6 C1432.3,721.9 1440.2,362.0 1441.3,362.0 C1442.3,363.8 1456.5,783.0 1457.7,783.0 C1458.8,782.0 1469.8,341.3 1470.8,338.2 C1471.7,338.2 1480.2,689.8 1480.6,704.3 C1481.1,704.3 1482.9,702.5 1483.1,701.2 C1483.3,700.0 1484.9,673.4 1485.1,673.1 C1485.3,673.1 1487.2,693.0 1487.4,693.9 C1487.7,694.9 1489.8,696.3 1490.3,696.3 C1490.8,681.8 1499.7,331.1 1500.4,331.1 C1501.1,333.2 1506.7,733.1 1507.1,749.7 C1507.4,749.7 1509.6,747.4 1509.8,745.9 C1510.0,744.3 1511.9,711.4 1512.1,711.4 C1512.3,711.4 1514.2,744.3 1514.4,745.9 C1514.6,747.4 1516.6,749.7 1517.1,749.7 C1517.7,733.4 1527.0,339.6 1527.6,337.2 C1528.3,337.2 1533.3,674.3 1533.7,688.2 C1534.0,688.2 1536.6,686.1 1536.8,684.8 C1537.0,683.4 1539.1,653.9 1539.3,653.9 C1539.6,654.9 1542.4,705.9 1542.7,708.4 C1543.0,710.8 1546.3,714.4 1546.8,714.4 C1547.3,699.6 1553.8,338.2 1554.4,338.2 C1555.1,338.4 1562.7,706.3 1563.3,721.5 C1563.9,721.5 1568.7,717.4 1569.0,717.4 C1569.3,719.1 1570.6,760.8 1570.8,762.8 C1570.9,764.8 1572.5,767.8 1573.0,767.8 C1573.5,748.8 1581.9,289.6 1582.7,286.1 C1583.5,286.1 1592.6,665.5 1593.2,681.1 C1593.7,681.1 1596.2,679.4 1596.5,678.3 C1596.7,677.2 1599.0,652.9 1599.2,652.9 C1599.4,653.2 1602.1,684.1 1602.4,685.6 C1602.7,687.0 1605.8,689.2 1606.3,689.2 C1606.7,673.3 1612.3,287.4 1612.9,287.4 C1613.6,288.3 1621.9,696.5 1622.4,713.4 C1622.9,713.4 1624.6,710.7 1624.7,709.0 C1624.9,707.2 1626.5,669.0 1626.6,669.0 C1626.8,669.7 1628.9,723.7 1629.1,726.2 C1629.3,728.7 1631.7,732.6 1632.1,732.6 C1632.5,714.3 1639.0,272.0 1639.5,269.2 C1640.1,269.2 1644.8,647.4 1645.2,663.0 C1645.6,663.0 1648.8,661.0 1649.1,659.7 C1649.3,658.3 1652.0,629.7 1652.2,629.7 C1652.5,630.4 1655.3,673.9 1655.6,676.0 C1655.9,678.1 1659.2,681.1 1659.7,681.1 C1660.2,664.7 1668.0,265.2 1668.8,265.2 C1669.5,267.0 1678.0,708.2 1678.5,726.5 C1678.9,726.5 1681.0,725.0 1681.2,724.0 C1681.4,723.0 1683.3,701.3 1683.5,701.3 C1683.7,701.9 1685.7,736.9 1685.9,738.5 C1686.2,740.2 1688.5,742.6 1688.9,742.6 C1689.4,722.5 1697.2,236.9 1698.0,234.3 C1698.8,234.3 1707.6,659.6 1708.1,677.1 C1708.6,677.1 1711.2,674.7 1711.4,673.1 C1711.7,671.5 1713.9,637.1 1714.1,636.8 C1714.4,636.8 1717.0,662.8 1717.3,664.0 C1717.6,665.2 1720.8,667.0 1721.2,667.0 C1721.6,649.6 1726.9,228.3 1727.4,228.3 C1728.0,230.3 1734.3,698.2 1734.7,717.4 C1735.1,717.4 1738.1,712.1 1738.4,708.6 C1738.6,705.0 1741.1,629.2 1741.4,628.7 C1741.6,628.7 1744.1,694.6 1744.4,697.7 C1744.6,700.7 1747.6,705.3 1748.0,705.3 C1748.4,686.2 1754.0,221.3 1754.5,219.8 C1755.0,219.8 1760.1,651.3 1760.5,669.0 C1760.9,669.0 1764.4,665.8 1764.7,663.7 C1765.0,661.6 1767.9,615.6 1768.2,615.6 C1768.4,616.1 1770.6,672.8 1770.8,675.5 C1771.0,678.2 1773.5,682.2 1774.0,682.2 C1774.5,664.6 1783.2,236.3 1783.9,236.3 C1784.7,237.3 1792.3,688.6 1792.8,707.4 C1793.2,707.4 1795.0,706.3 1795.2,705.5 C1795.4,704.8 1797.0,689.2 1797.2,689.2 C1797.4,689.5 1799.9,712.6 1800.2,713.7 C1800.5,714.8 1803.3,716.4 1803.9,716.4 C1804.4,696.4 1812.6,214.6 1813.3,212.1 C1814.1,212.1 1821.2,638.3 1821.6,655.9 C1822.1,655.9 1824.2,654.1 1824.4,652.9 C1824.6,651.7 1826.4,625.7 1826.7,625.7 C1826.9,625.9 1829.5,657.8 1829.8,659.3 C1830.1,660.8 1833.2,663.0 1833.7,663.0 C1834.2,647.1 1841.5,260.7 1842.2,260.7 C1842.8,261.3 1849.4,661.7 1849.8,678.1 C1850.3,678.1 1852.6,674.3 1852.8,671.8 C1853.1,669.2 1855.1,614.6 1855.3,614.6 C1855.5,614.6 1857.2,669.2 1857.4,671.8 C1857.6,674.3 1859.4,678.1 1859.9,678.1 C1860.4,661.3 1869.2,252.8 1869.9,251.5 C1870.5,251.5 1875.2,632.1 1875.7,646.6 C1876.2,646.6 1882.1,613.8 1882.6,613.8 C1883.2,614.7 1889.0,670.8 1889.6,670.8 C1890.1,654.6 1896.5,228.5 1896.8,210.1"/>
<path stroke="#ff8000" d="M252.9,1265.5 C253.2,1265.3 259.5,1260.7 260.2,1260.5 C260.9,1260.5 269.5,1261.5 270.2,1261.5 C271.0,1261.5 277.7,1259.8 278.3,1259.5 C278.9,1259.2 283.9,1253.8 284.4,1253.4 C284.8,1253.1 289.8,1250.4 290.4,1250.4 C291.0,1250.4 297.9,1254.0 298.5,1254.4 C299.0,1254.8 304.0,1260.2 304.5,1260.5 C305.1,1260.8 311.9,1261.1 312.6,1261.5 C313.2,1261.9 320.1,1269.1 320.7,1269.6 C321.2,1270.0 326.3,1273.6 326.7,1273.6 C327.1,1273.6 330.3,1269.7 330.7,1268.6 C331.1,1267.4 336.4,1245.9 336.8,1244.4 C337.2,1242.8 340.5,1229.9 340.8,1229.2 C341.1,1228.6 344.5,1228.2 344.8,1228.2 C345.2,1228.7 348.5,1239.0 348.9,1240.3 C349.3,1241.7 354.5,1261.1 354.9,1262.5 C355.4,1263.9 359.6,1275.4 360.0,1275.6 C360.3,1275.6 362.8,1269.5 363.0,1268.6 C363.2,1267.6 365.7,1253.3 366.0,1252.4 C366.3,1251.5 369.7,1246.4 370.1,1246.4 C370.4,1246.5 374.7,1253.6 375.1,1254.4 C375.5,1255.2 380.7,1266.0 381.1,1266.5 C381.6,1267.1 385.8,1267.5 386.2,1267.5 C386.5,1267.2 389.9,1260.1 390.2,1258.5 C390.6,1256.8 394.9,1228.1 395.3,1226.2 C395.7,1224.3 399.9,1210.7 400.3,1210.1 C400.7,1210.1 404.0,1210.1 404.3,1211.1 C404.7,1212.1 408.0,1231.8 408.4,1234.3 C408.7,1236.7 413.0,1270.7 413.4,1272.6 C413.8,1274.5 417.1,1282.7 417.4,1282.7 C417.8,1282.5 421.2,1269.6 421.5,1268.6 C421.8,1267.5 424.3,1256.0 424.5,1255.4 C424.7,1255.4 427.2,1255.4 427.5,1255.4 C427.8,1256.1 431.2,1269.2 431.6,1270.6 C431.9,1272.0 436.3,1289.8 436.6,1290.7 C436.9,1291.7 439.3,1293.8 439.6,1293.8 C439.9,1293.4 443.2,1285.2 443.6,1282.7 C444.1,1280.1 449.3,1234.0 449.7,1230.2 C450.1,1226.5 452.5,1189.9 452.7,1187.9 C453.0,1185.9 455.5,1180.0 455.7,1180.0 C456.0,1180.0 458.5,1186.6 458.8,1187.9 C459.1,1189.2 462.4,1209.2 462.8,1212.1 C463.2,1215.0 467.4,1257.4 467.8,1260.5 C468.2,1263.6 472.5,1288.8 472.9,1289.7 C473.2,1289.7 476.6,1286.7 476.9,1284.7 C477.3,1282.7 481.6,1242.7 482.0,1240.3 C482.3,1237.9 485.7,1224.7 486.0,1224.2 C486.3,1224.2 489.7,1227.1 490.0,1228.2 C490.4,1229.4 494.7,1251.1 495.1,1252.4 C495.4,1253.8 498.8,1262.3 499.1,1262.5 C499.4,1262.5 502.9,1258.2 503.1,1256.5 C503.4,1254.8 505.6,1222.7 505.8,1220.2 C505.9,1217.6 507.6,1194.6 507.8,1192.7 C507.9,1190.9 509.4,1175.5 509.6,1174.6 C509.7,1173.7 511.4,1171.2 511.6,1171.2 C511.8,1171.2 514.0,1174.0 514.2,1174.6 C514.4,1175.2 517.0,1185.6 517.2,1186.7 C517.5,1187.8 520.3,1200.3 520.7,1202.0 C521.0,1203.8 525.9,1228.7 526.3,1230.2 C526.7,1231.8 531.0,1240.3 531.4,1240.3 C531.7,1240.3 535.1,1231.5 535.4,1230.2 C535.7,1229.0 539.1,1211.0 539.4,1210.1 C539.7,1209.1 542.2,1206.0 542.4,1206.0 C542.7,1206.5 545.2,1219.0 545.5,1220.2 C545.7,1221.4 548.3,1236.1 548.5,1236.3 C548.7,1236.3 551.3,1227.6 551.5,1226.2 C551.7,1224.9 553.4,1204.2 553.5,1202.8 C553.7,1201.5 555.3,1193.2 555.6,1192.7 C555.8,1192.3 560.3,1191.5 560.6,1190.7 C560.9,1190.0 563.4,1176.5 563.6,1174.6 C563.8,1172.7 565.5,1144.6 565.6,1142.3 C565.8,1140.1 567.5,1119.4 567.7,1118.1 C567.9,1116.9 570.4,1110.7 570.7,1110.7 C570.9,1110.8 573.5,1120.9 573.7,1122.2 C573.9,1123.4 576.4,1140.6 576.7,1142.3 C577.0,1144.1 580.5,1164.9 580.8,1166.5 C581.0,1168.1 583.5,1181.9 583.8,1182.7 C584.0,1183.4 586.6,1184.7 586.8,1184.7 C587.1,1184.4 589.6,1177.9 589.8,1176.6 C590.1,1175.3 593.5,1154.2 593.9,1152.4 C594.2,1150.6 597.6,1133.1 597.9,1132.3 C598.2,1131.4 600.6,1130.8 600.9,1130.8 C601.2,1131.0 604.7,1135.9 605.0,1136.3 C605.2,1136.6 607.7,1139.7 608.0,1139.9 C608.3,1140.1 611.7,1140.6 612.0,1141.3 C612.3,1142.1 614.8,1157.5 615.0,1158.5 C615.2,1159.4 616.9,1164.5 617.1,1164.5 C617.2,1163.9 618.9,1145.2 619.1,1142.3 C619.2,1139.4 621.3,1094.7 621.5,1091.9 C621.7,1089.2 623.9,1074.7 624.1,1073.8 C624.3,1072.8 626.9,1068.3 627.1,1068.3 C627.4,1068.3 629.4,1072.8 629.6,1073.8 C629.8,1074.7 632.0,1091.1 632.2,1091.9 C632.4,1092.8 634.6,1094.9 634.8,1094.9 C635.0,1094.9 638.0,1092.3 638.2,1091.9 C638.5,1091.5 641.0,1085.2 641.3,1084.9 C641.5,1084.6 643.7,1084.3 643.9,1084.3 C644.0,1084.5 645.5,1088.8 645.7,1089.9 C645.8,1091.0 647.5,1110.7 647.7,1112.1 C647.9,1113.5 649.5,1123.8 649.7,1124.2 C649.9,1124.2 653.1,1122.2 653.3,1122.2 C653.6,1122.3 656.2,1127.8 656.4,1128.2 C656.5,1128.6 657.0,1131.5 657.1,1131.9 C657.3,1132.2 659.9,1136.9 660.2,1136.9 C660.4,1136.9 662.4,1133.3 662.6,1131.9 C662.7,1130.5 663.7,1104.5 663.8,1101.6 C663.9,1098.8 665.1,1064.5 665.2,1061.3 C665.3,1058.1 667.0,1022.8 667.2,1021.0 C667.4,1019.1 669.4,1014.9 669.6,1014.9 C669.8,1014.9 672.0,1019.9 672.3,1021.0 C672.5,1022.0 675.1,1040.1 675.3,1041.1 C675.5,1042.2 677.1,1046.2 677.3,1046.2 C677.5,1046.2 679.2,1042.5 679.3,1041.1 C679.5,1039.8 681.2,1014.3 681.3,1012.9 C681.5,1011.5 683.1,1007.0 683.4,1006.9 C683.6,1006.9 686.1,1007.7 686.4,1008.9 C686.7,1010.1 690.1,1035.5 690.4,1037.1 C690.7,1038.7 693.2,1049.0 693.4,1049.2 C693.7,1049.2 696.2,1042.6 696.5,1041.1 C696.7,1039.7 699.3,1014.2 699.5,1012.9 C699.7,1011.6 701.9,1007.9 702.1,1007.9 C702.3,1007.9 704.3,1011.7 704.5,1012.9 C704.7,1014.1 707.3,1036.1 707.5,1037.1 C707.7,1038.2 709.4,1039.1 709.6,1039.1 C709.8,1039.0 712.3,1035.4 712.6,1035.1 C712.9,1034.8 716.3,1031.5 716.6,1031.1 C716.9,1030.7 720.4,1026.2 720.7,1025.0 C720.9,1023.8 722.5,1002.6 722.7,1000.8 C722.8,999.0 724.5,981.5 724.7,980.7 C724.9,979.8 726.9,979.6 727.1,979.6 C727.3,980.2 729.5,993.1 729.7,994.8 C729.9,996.4 731.6,1019.3 731.7,1021.0 C731.9,1022.6 733.6,1036.1 733.8,1036.1 C733.9,1036.1 735.6,1022.8 735.8,1021.0 C735.9,1019.2 737.6,992.3 737.8,990.7 C738.0,989.1 739.6,981.1 739.8,980.7 C740.0,980.7 742.6,980.7 742.8,980.7 C743.0,981.1 744.7,990.3 744.8,990.7 C745.0,991.2 746.7,991.7 746.9,991.7 C747.0,991.6 748.7,988.0 748.9,986.7 C749.0,985.5 750.7,962.7 750.9,960.5 C751.1,958.3 752.7,933.7 752.9,932.3 C753.1,930.8 755.1,925.2 755.3,925.2 C755.5,925.2 757.7,931.0 758.0,932.3 C758.2,933.5 760.7,954.1 761.0,956.5 C761.2,958.8 763.8,988.2 764.0,990.7 C764.2,993.3 766.8,1019.2 767.0,1021.0 C767.3,1022.7 769.9,1033.5 770.1,1034.1 C770.3,1034.7 771.9,1036.1 772.1,1036.1 C772.3,1035.9 774.5,1031.3 774.7,1029.0 C774.9,1026.8 776.9,984.6 777.1,980.7 C777.3,976.7 779.0,934.2 779.1,930.2 C779.3,926.3 780.4,884.9 780.5,882.7 C780.6,880.5 781.5,875.9 781.6,875.2 C781.7,874.6 782.2,867.2 782.4,866.5 C782.5,865.8 784.9,858.1 785.2,858.1 C785.5,859.0 788.6,886.9 788.8,889.6 C789.0,892.3 790.8,923.7 791.0,925.6 C791.1,927.5 792.7,937.2 792.8,937.2 C793.0,936.9 795.1,919.5 795.3,918.4 C795.5,917.3 797.9,909.9 798.2,909.8 C798.4,909.8 800.8,914.9 801.0,915.6 C801.3,916.2 803.0,924.1 803.2,925.6 C803.4,927.2 805.9,952.7 806.1,954.4 C806.3,956.2 808.5,968.8 808.7,968.8 C808.9,967.7 811.0,929.4 811.1,925.6 C811.3,921.9 812.4,878.2 812.6,875.2 C812.7,872.2 814.5,851.2 814.7,850.9 C814.9,850.9 817.4,865.9 817.6,868.0 C817.8,870.1 819.6,901.1 819.8,904.0 C819.9,906.9 821.7,937.9 821.9,940.0 C822.1,942.2 824.5,956.9 824.8,957.3 C825.1,957.3 828.8,950.8 829.1,950.1 C829.5,949.4 832.5,941.9 832.7,940.0 C833.0,938.2 834.7,907.5 834.9,904.0 C835.1,900.6 837.6,856.4 837.8,853.6 C838.0,850.9 839.8,835.7 839.9,834.9 C840.1,834.1 841.5,833.0 841.7,833.0 C841.8,833.3 843.4,839.0 843.5,840.7 C843.7,842.3 845.6,872.1 845.7,875.2 C845.8,878.3 847.0,915.8 847.1,918.4 C847.2,921.1 848.0,940.8 848.1,940.8 C848.3,940.8 849.9,920.2 850.0,918.4 C850.2,916.7 852.0,897.8 852.2,896.8 C852.4,895.8 854.2,893.9 854.3,893.9 C854.5,894.2 856.3,903.4 856.5,904.0 C856.7,904.7 858.5,910.5 858.7,910.5 C858.8,910.5 860.6,905.4 860.8,904.0 C861.0,902.6 862.8,878.1 863.0,875.2 C863.2,872.3 865.6,835.2 865.9,832.0 C866.1,828.8 868.5,797.8 868.7,796.0 C869.0,794.2 871.0,787.1 871.2,787.1 C871.4,787.4 873.6,800.5 873.8,803.2 C874.0,805.9 876.4,849.6 876.7,853.6 C876.9,857.7 879.3,900.3 879.5,904.0 C879.8,907.8 882.2,945.0 882.4,947.2 C882.7,949.5 885.1,959.9 885.3,960.2 C885.5,960.2 887.3,955.8 887.5,954.4 C887.6,953.1 889.5,929.4 889.6,925.6 C889.8,921.9 891.6,866.3 891.8,860.8 C892.0,855.3 893.8,793.6 893.9,788.8 C894.1,784.0 896.1,743.4 896.3,741.3 C896.4,739.2 898.4,736.1 898.6,736.1 C898.8,736.1 900.9,739.2 901.1,741.3 C901.4,743.4 903.8,785.5 904.0,788.8 C904.2,792.1 906.0,822.6 906.2,824.8 C906.4,827.1 908.1,844.1 908.4,845.0 C908.6,845.8 911.0,846.2 911.2,846.4 C911.5,846.6 914.6,848.7 914.8,849.3 C915.1,849.9 916.8,859.8 917.0,860.8 C917.2,861.9 919.0,874.5 919.2,875.2 C919.3,875.9 920.9,878.1 921.0,878.1 C921.2,877.5 922.6,863.2 922.8,860.8 C922.9,858.4 924.7,821.1 924.9,817.6 C925.1,814.2 926.8,778.4 927.1,774.4 C927.3,770.4 930.5,717.9 930.8,717.9 C931.1,719.1 934.1,798.1 934.3,803.2 C934.5,808.3 936.3,843.7 936.4,846.4 C936.6,849.2 938.4,871.1 938.6,872.3 C938.8,873.6 940.6,876.7 940.8,876.7 C941.0,876.7 943.4,873.3 943.6,872.3 C943.9,871.4 946.3,855.8 946.5,853.6 C946.7,851.4 948.5,820.5 948.7,817.6 C948.9,814.7 950.6,785.9 950.8,781.6 C951.0,777.3 953.3,709.7 953.6,709.7 C953.9,710.6 957.8,797.7 958.0,803.2 C958.3,808.7 960.0,843.8 960.2,846.4 C960.4,849.1 962.2,868.5 962.4,869.5 C962.5,870.4 964.1,870.9 964.2,870.9 C964.3,870.0 965.1,848.4 965.2,846.4 C965.3,844.4 966.5,821.7 966.7,820.5 C966.9,819.3 969.4,816.2 969.6,816.2 C969.8,816.6 971.6,830.8 971.7,832.0 C971.9,833.2 973.0,846.1 973.2,846.4 C973.3,846.4 975.8,841.8 976.0,840.7 C976.3,839.5 978.7,820.0 978.9,817.6 C979.1,815.2 980.8,787.2 981.1,781.6 C981.4,776.0 986.0,677.9 986.4,677.9 C986.8,678.8 991.6,796.5 991.9,803.2 C992.2,809.9 994.5,843.5 994.8,846.4 C995.0,849.3 997.4,873.7 997.6,875.2 C997.9,876.7 999.6,883.9 999.8,883.9 C1000.0,883.9 1001.8,876.7 1002.0,875.2 C1002.1,873.7 1004.0,849.3 1004.1,846.4 C1004.3,843.5 1005.9,812.1 1006.3,803.2 C1006.6,794.3 1012.5,625.2 1013.1,624.6 C1013.6,624.6 1019.6,781.2 1020.0,788.8 C1020.3,796.4 1022.0,813.6 1022.1,814.7 C1022.3,815.9 1024.1,817.6 1024.3,817.6 C1024.5,816.9 1026.3,797.2 1026.5,796.0 C1026.6,794.9 1028.4,789.0 1028.6,788.8 C1028.8,788.8 1031.3,790.5 1031.5,791.7 C1031.7,792.8 1033.5,815.7 1033.7,817.6 C1033.8,819.5 1035.6,839.9 1035.8,839.9 C1036.0,839.9 1037.8,819.7 1038.0,817.6 C1038.2,815.6 1040.0,795.1 1040.1,788.8 C1040.3,782.5 1042.4,665.7 1042.6,659.2 C1042.8,652.6 1044.2,624.6 1044.3,624.6 C1044.5,624.6 1046.4,652.3 1046.6,659.2 C1046.9,666.0 1050.0,789.6 1050.2,796.0 C1050.5,802.5 1052.2,819.3 1052.4,820.5 C1052.6,821.7 1055.1,826.0 1055.3,826.3 C1055.5,826.3 1056.6,826.3 1057.1,826.3 C1057.7,817.2 1068.1,599.2 1068.8,598.5 C1069.6,598.5 1075.4,801.5 1075.9,808.2 C1076.4,808.2 1081.3,766.1 1081.7,765.8 C1082.2,765.8 1087.3,802.1 1088.0,802.1 C1088.7,794.6 1097.8,578.3 1098.9,578.3 C1099.9,579.8 1113.0,838.4 1114.2,838.4 C1115.4,836.7 1127.2,538.7 1128.1,535.8 C1129.1,535.8 1137.2,755.3 1137.8,763.8 C1138.3,763.8 1141.4,747.7 1141.8,747.7 C1142.2,748.2 1147.2,777.9 1147.9,777.9 C1148.5,768.7 1157.6,517.0 1158.4,517.0 C1159.1,517.6 1166.5,781.3 1167.0,792.0 C1167.5,792.0 1170.7,786.0 1171.1,786.0 C1171.4,786.2 1175.0,796.1 1175.5,796.1 C1176.0,785.3 1183.2,518.8 1183.8,517.6 C1184.4,517.6 1190.3,757.3 1190.8,765.8 C1191.3,765.8 1196.5,732.0 1196.9,731.6 C1197.3,731.6 1200.6,754.7 1201.3,754.7 C1202.0,745.5 1212.7,499.5 1213.8,499.5 C1214.9,501.6 1227.4,807.2 1228.5,807.2 C1229.6,805.7 1240.7,466.8 1241.6,463.2 C1242.6,463.2 1251.1,707.3 1251.7,717.4 C1252.3,717.4 1256.3,716.4 1256.8,716.4 C1257.2,717.4 1262.2,740.6 1262.8,740.6 C1263.4,730.7 1271.2,467.2 1271.9,467.2 C1272.5,468.2 1279.1,754.6 1279.5,765.8 C1280.0,765.8 1283.6,749.2 1284.0,748.7 C1284.4,748.7 1289.5,753.7 1290.0,753.7 C1290.5,741.3 1295.4,438.9 1296.1,438.0 C1296.7,438.0 1305.6,719.3 1306.2,729.5 C1306.7,729.5 1309.7,694.2 1310.2,694.2 C1310.6,694.3 1316.6,731.6 1317.2,731.6 C1317.9,721.2 1324.9,434.9 1325.9,434.9 C1326.9,436.6 1340.6,772.9 1341.8,772.9 C1343.0,771.0 1355.0,391.1 1356.0,388.6 C1356.9,388.6 1365.0,697.3 1365.6,709.4 C1366.3,709.4 1371.2,690.2 1371.7,690.2 C1372.2,690.3 1378.2,711.4 1378.7,711.4 C1379.3,699.0 1384.8,380.5 1385.4,380.5 C1386.0,381.2 1394.3,716.4 1394.9,729.5 C1395.4,729.5 1398.6,708.4 1398.9,708.4 C1399.2,708.4 1402.4,727.5 1402.9,727.5 C1403.4,713.8 1411.0,365.3 1411.6,364.4 C1412.2,364.4 1417.5,693.3 1418.1,705.3 C1418.6,705.3 1424.0,666.0 1424.5,666.0 C1425.1,666.3 1431.1,711.4 1431.8,711.4 C1432.4,699.2 1440.2,362.0 1441.3,362.0 C1442.3,363.5 1455.9,750.7 1457.1,750.7 C1458.2,749.8 1469.8,340.7 1470.8,338.2 C1471.7,338.2 1479.7,674.0 1480.2,687.2 C1480.8,687.2 1484.3,669.0 1484.7,669.0 C1485.1,669.3 1489.7,693.2 1490.3,693.2 C1491.0,679.8 1500.1,334.1 1500.8,334.1 C1501.5,335.3 1506.5,707.8 1507.1,721.5 C1507.6,721.5 1513.7,677.4 1514.1,677.1 C1514.6,677.1 1518.0,713.4 1518.6,713.4 C1519.1,699.8 1527.0,338.2 1527.6,337.2 C1528.2,337.2 1533.2,675.6 1533.7,688.2 C1534.1,688.2 1538.9,652.3 1539.3,651.9 C1539.8,651.9 1544.2,679.1 1544.8,679.1 C1545.4,666.6 1553.7,338.2 1554.4,338.2 C1555.2,339.6 1563.3,700.5 1563.9,715.4 C1564.5,715.4 1569.6,711.4 1570.0,711.4 C1570.3,712.1 1572.5,732.6 1573.0,732.6 C1573.5,715.9 1582.3,298.4 1583.1,295.8 C1583.9,295.8 1592.5,652.9 1593.2,667.0 C1593.8,667.0 1598.7,649.9 1599.2,649.9 C1599.7,650.5 1605.7,681.1 1606.3,681.1 C1606.8,666.6 1612.3,287.4 1612.9,287.4 C1613.5,287.5 1620.9,670.6 1621.4,685.2 C1621.9,685.2 1625.6,650.9 1626.0,650.9 C1626.5,651.7 1631.9,706.3 1632.5,706.3 C1633.0,691.1 1639.0,271.2 1639.5,269.2 C1640.1,269.2 1646.1,642.4 1646.6,656.9 C1647.1,656.9 1651.7,631.7 1652.2,631.7 C1652.8,632.5 1659.0,675.1 1659.7,675.1 C1660.4,660.4 1668.0,265.2 1668.8,265.2 C1669.5,266.5 1678.3,690.4 1678.9,707.4 C1679.4,707.4 1683.1,690.2 1683.5,690.2 C1683.9,690.5 1688.4,714.4 1688.9,714.4 C1689.5,696.2 1697.2,236.3 1698.0,234.3 C1698.8,234.3 1707.4,649.0 1708.1,665.0 C1708.7,665.0 1713.6,635.1 1714.1,634.8 C1714.7,634.8 1720.6,656.9 1721.2,656.9 C1721.7,640.8 1727.3,230.3 1727.9,230.3 C1728.4,231.7 1734.2,677.4 1734.7,693.2 C1735.2,693.2 1740.8,625.7 1741.4,625.7 C1741.9,625.7 1747.5,692.2 1748.0,692.2 C1748.5,676.0 1754.0,221.0 1754.5,219.8 C1755.0,219.8 1760.0,647.0 1760.5,663.0 C1761.1,663.0 1767.6,618.6 1768.2,618.6 C1768.7,618.9 1773.4,670.1 1774.0,670.1 C1774.7,654.8 1783.6,238.4 1784.3,238.4 C1785.0,238.8 1791.3,664.2 1791.8,681.1 C1792.3,681.1 1796.4,661.0 1796.8,661.0 C1797.3,661.6 1802.2,697.3 1802.9,697.3 C1803.5,679.3 1812.6,214.2 1813.3,212.1 C1814.1,212.1 1821.5,630.4 1822.0,646.9 C1822.5,646.9 1826.2,623.7 1826.7,623.7 C1827.1,624.2 1833.1,659.0 1833.7,659.0 C1834.3,644.5 1840.5,261.5 1841.2,261.5 C1841.8,261.5 1849.3,644.9 1849.8,659.0 C1850.4,659.0 1854.9,612.7 1855.3,612.6 C1855.7,612.6 1859.3,655.9 1859.9,655.9 C1860.5,641.5 1869.2,252.2 1869.9,251.5 C1870.5,251.5 1875.2,625.3 1875.7,639.7 C1876.2,639.7 1882.1,610.3 1882.6,610.3 C1883.2,610.9 1889.0,655.2 1889.6,655.2 C1890.1,639.2 1896.5,227.9 1896.8,210.1"/>
<path stroke="#6a00dc" d="M252.9,1440.1 C254.0,1440.3 256.4,1440.8 260.2,1441.0 C264.0,1441.0 274.1,1441.0 278.3,1441.0 C282.5,1440.5 285.4,1440.2 288.4,1437.9 C291.4,1435.7 295.8,1428.4 298.5,1425.8 C301.2,1423.3 304.3,1421.1 306.5,1420.8 C308.8,1420.8 311.9,1422.1 313.6,1423.8 C315.3,1425.5 315.7,1429.8 317.6,1431.9 C319.6,1434.0 322.9,1437.0 326.7,1437.9 C330.5,1437.9 338.9,1437.9 342.8,1437.9 C346.8,1438.7 350.2,1441.8 352.9,1443.0 C355.6,1444.2 359.0,1445.5 361.0,1446.0 C362.9,1446.0 364.1,1446.0 366.0,1446.0 C368.0,1446.9 370.5,1450.7 374.1,1452.0 C377.7,1453.4 386.7,1455.1 390.2,1455.1 C393.7,1454.8 395.2,1452.0 397.3,1450.0 C399.4,1448.1 402.4,1443.2 404.3,1442.0 C406.3,1442.0 407.8,1442.0 410.4,1442.0 C413.0,1443.5 418.3,1450.4 421.5,1452.0 C424.6,1453.0 428.5,1452.0 431.6,1453.0 C434.6,1454.3 437.1,1458.4 441.6,1460.1 C446.2,1461.8 457.4,1462.8 461.8,1464.1 C466.2,1465.5 468.3,1469.2 470.9,1469.2 C473.4,1469.2 477.0,1464.3 478.9,1464.1 C480.9,1464.1 482.0,1465.8 484.0,1468.2 C485.9,1470.6 489.9,1477.9 492.0,1480.3 C494.2,1482.7 496.0,1483.5 498.1,1484.3 C500.2,1485.1 503.4,1484.4 506.2,1485.3 C508.9,1486.2 513.2,1489.1 516.2,1490.4 C519.3,1491.6 523.3,1493.2 526.3,1493.4 C529.3,1493.4 534.0,1491.5 536.4,1491.4 C538.8,1491.4 540.3,1491.5 542.4,1492.4 C544.6,1493.3 547.5,1496.2 550.5,1497.4 C553.5,1498.6 558.4,1499.2 562.6,1500.4 C566.8,1501.6 575.1,1505.0 578.7,1505.5 C582.4,1505.5 583.8,1504.5 586.8,1503.5 C589.8,1502.4 595.9,1500.2 598.9,1498.4 C601.9,1496.6 604.9,1492.3 607.0,1491.4 C609.1,1491.4 610.3,1492.2 613.0,1492.4 C615.7,1492.4 621.2,1492.4 625.1,1492.4 C629.1,1492.8 635.3,1494.5 639.2,1495.4 C643.2,1496.3 648.2,1498.0 651.3,1498.4 C654.4,1498.4 657.5,1498.4 660.0,1498.4 C662.5,1499.0 665.6,1501.3 668.1,1502.0 C670.5,1502.8 673.7,1503.5 676.1,1503.5 C678.6,1503.4 682.1,1501.9 684.2,1501.4 C686.3,1501.0 688.4,1501.3 690.2,1500.4 C692.1,1499.5 694.5,1496.9 696.3,1495.4 C698.1,1493.9 700.8,1491.4 702.3,1490.4 C703.9,1489.3 705.3,1489.1 706.4,1488.3 C707.4,1487.6 708.3,1485.3 709.4,1485.3 C710.5,1485.3 712.1,1487.5 713.4,1488.3 C714.8,1489.2 716.5,1490.5 718.5,1491.0 C720.4,1491.4 724.1,1491.4 726.5,1491.4 C729.0,1491.3 732.5,1491.0 734.6,1490.4 C736.7,1489.7 738.8,1488.0 740.7,1487.3 C742.5,1486.7 744.9,1485.9 746.7,1485.9 C748.5,1485.9 750.9,1486.8 752.8,1487.3 C754.6,1487.9 757.0,1489.5 758.8,1489.7 C760.6,1489.7 763.0,1489.4 764.8,1488.7 C766.7,1488.1 769.2,1486.5 770.9,1485.3 C772.6,1484.1 774.4,1481.8 775.9,1480.9 C777.5,1479.9 779.5,1479.1 781.0,1478.9 C782.5,1478.9 784.5,1479.1 786.0,1479.3 C787.5,1479.5 789.8,1480.3 791.1,1480.3 C792.4,1480.1 793.8,1480.3 794.7,1478.3 C795.5,1474.9 796.0,1464.1 796.7,1458.1 C797.4,1452.0 798.3,1443.4 799.1,1437.9 C799.9,1432.5 801.2,1425.4 802.2,1421.8 C803.1,1418.2 804.3,1414.1 805.2,1414.1 C806.1,1416.3 807.1,1431.1 808.2,1435.9 C809.3,1440.7 811.2,1443.0 812.2,1446.0 C813.3,1449.0 814.4,1452.7 815.3,1456.1 C816.2,1459.4 817.4,1466.1 818.3,1468.2 C819.2,1470.2 820.2,1470.2 821.3,1470.2 C822.4,1469.7 823.8,1466.6 825.3,1465.1 C826.9,1463.7 829.6,1461.7 831.4,1460.7 C833.2,1459.7 835.6,1459.3 837.4,1458.7 C839.3,1458.1 841.7,1457.3 843.5,1456.7 C845.3,1456.0 847.7,1455.3 849.5,1454.5 C851.3,1453.6 853.8,1452.2 855.6,1451.0 C857.4,1449.9 859.8,1447.8 861.6,1447.0 C863.4,1446.2 865.9,1446.1 867.7,1446.0 C869.5,1446.0 871.9,1446.0 873.7,1446.0 C875.5,1445.5 878.0,1444.0 879.8,1443.0 C881.6,1441.9 884.0,1440.8 885.8,1438.9 C887.6,1437.1 890.1,1433.1 891.9,1430.9 C893.7,1428.6 896.1,1425.5 897.9,1423.8 C899.7,1422.1 902.2,1421.6 904.0,1419.8 C905.8,1418.0 908.2,1413.5 910.0,1411.7 C911.8,1409.9 914.7,1408.3 916.1,1407.7 C917.4,1407.7 918.0,1407.7 919.1,1407.7 C920.2,1408.4 921.9,1411.2 923.1,1412.7 C924.3,1414.2 925.5,1416.6 927.2,1417.8 C928.8,1418.9 932.4,1420.4 934.2,1420.4 C936.0,1420.2 937.7,1417.8 939.3,1416.8 C940.8,1415.8 942.6,1414.3 944.3,1413.7 C946.0,1413.1 948.5,1412.9 950.4,1412.7 C952.2,1412.7 954.6,1412.7 956.4,1412.7 C958.2,1412.5 960.6,1412.1 962.4,1411.3 C964.3,1410.6 966.7,1409.0 968.5,1407.7 C970.3,1406.4 972.7,1403.9 974.5,1402.6 C976.4,1401.4 978.8,1400.3 980.6,1399.6 C982.4,1398.9 984.8,1398.6 986.6,1398.0 C988.5,1397.4 990.9,1396.6 992.7,1395.6 C994.5,1394.6 996.9,1393.1 998.7,1391.6 C1000.6,1390.0 1003.1,1387.0 1004.8,1385.5 C1006.5,1384.0 1008.6,1382.1 1009.8,1381.5 C1011.0,1381.1 1011.8,1381.1 1012.9,1381.1 C1013.9,1381.5 1015.7,1384.3 1016.9,1384.5 C1018.1,1384.5 1019.7,1384.4 1020.9,1382.5 C1022.1,1380.5 1023.9,1374.9 1025.0,1371.4 C1026.0,1367.9 1026.9,1362.2 1028.0,1359.3 C1029.0,1356.4 1030.7,1353.5 1032.0,1352.2 C1033.4,1351.0 1035.4,1351.1 1037.1,1350.8 C1038.7,1350.5 1041.3,1350.5 1043.1,1350.2 C1044.9,1350.0 1047.6,1349.4 1049.2,1349.2 C1050.7,1349.0 1051.8,1348.8 1053.2,1348.8 C1054.5,1349.1 1056.7,1349.8 1058.2,1351.2 C1059.7,1352.6 1061.8,1356.8 1063.3,1358.3 C1064.8,1359.8 1066.6,1360.9 1068.3,1361.3 C1070.0,1361.3 1072.6,1361.3 1074.4,1361.3 C1076.1,1361.2 1078.2,1361.2 1080.0,1360.3 C1081.8,1359.4 1084.2,1356.5 1086.0,1355.2 C1087.9,1354.0 1090.0,1352.7 1092.1,1351.8 C1094.2,1350.9 1097.7,1350.2 1100.2,1349.2 C1102.6,1348.2 1105.8,1346.4 1108.2,1345.1 C1110.6,1343.9 1113.9,1342.1 1116.3,1341.1 C1118.7,1340.1 1121.9,1339.6 1124.4,1338.7 C1126.8,1337.8 1130.0,1336.0 1132.4,1335.1 C1134.8,1334.1 1138.1,1333.2 1140.5,1332.4 C1142.9,1331.7 1146.1,1330.8 1148.6,1330.0 C1151.0,1329.2 1154.2,1328.1 1156.6,1327.0 C1159.0,1325.9 1162.3,1324.3 1164.7,1323.0 C1167.1,1321.6 1170.3,1319.6 1172.8,1317.9 C1175.2,1316.3 1178.9,1313.5 1180.8,1311.9 C1182.8,1310.2 1184.0,1308.2 1185.9,1306.8 C1187.7,1305.5 1190.6,1303.9 1192.9,1302.8 C1195.2,1301.7 1198.6,1300.6 1201.0,1299.8 C1203.4,1299.0 1206.6,1298.1 1209.0,1297.4 C1211.5,1296.6 1215.0,1295.9 1217.1,1294.7 C1219.2,1293.6 1221.3,1291.4 1223.2,1289.7 C1225.0,1288.0 1227.4,1285.3 1229.2,1283.6 C1231.0,1282.0 1233.4,1280.1 1235.3,1278.6 C1237.1,1277.1 1239.6,1274.9 1241.3,1273.6 C1243.0,1272.2 1244.8,1270.4 1246.3,1269.5 C1247.9,1268.7 1249.7,1268.1 1251.4,1267.9 C1253.1,1267.9 1255.8,1268.1 1257.4,1268.5 C1259.1,1268.9 1261.0,1270.2 1262.5,1270.5 C1264.0,1270.5 1266.0,1270.5 1267.5,1270.5 C1269.0,1269.9 1271.0,1268.2 1272.6,1266.5 C1274.1,1264.8 1276.1,1261.9 1277.6,1259.5 C1279.1,1257.0 1281.1,1252.8 1282.6,1250.4 C1284.2,1248.0 1286.0,1245.1 1287.7,1243.3 C1289.3,1241.5 1291.9,1239.2 1293.7,1238.3 C1295.5,1237.3 1298.0,1237.3 1299.8,1236.9 C1301.6,1236.4 1304.0,1235.7 1305.8,1235.3 C1307.6,1234.9 1309.8,1234.4 1311.9,1234.2 C1314.0,1234.2 1317.8,1234.2 1319.9,1234.2 C1322.1,1234.2 1324.2,1234.2 1326.0,1233.6 C1327.8,1232.9 1330.2,1230.8 1332.0,1229.2 C1333.9,1227.6 1336.3,1224.8 1338.1,1223.2 C1339.9,1221.5 1342.3,1219.6 1344.1,1218.1 C1346.0,1216.6 1348.4,1214.9 1350.2,1213.1 C1352.0,1211.3 1354.6,1207.8 1356.2,1206.0 C1357.9,1204.2 1359.8,1202.0 1361.3,1201.0 C1362.8,1199.9 1364.8,1199.0 1366.3,1199.0 C1367.8,1199.0 1369.8,1199.5 1371.4,1200.6 C1372.9,1201.6 1374.9,1204.8 1376.4,1206.0 C1377.9,1207.3 1380.1,1208.1 1381.4,1209.0 C1382.8,1210.0 1384.3,1212.1 1385.5,1212.1 C1386.7,1212.1 1388.1,1210.4 1389.5,1209.0 C1390.9,1207.7 1392.9,1204.8 1394.5,1203.0 C1396.2,1201.2 1398.8,1198.9 1400.6,1196.9 C1402.4,1195.0 1404.8,1191.6 1406.6,1189.9 C1408.5,1188.2 1410.9,1186.5 1412.7,1185.5 C1414.5,1184.5 1416.9,1183.7 1418.7,1183.2 C1420.6,1182.8 1423.0,1182.4 1424.8,1182.2 C1426.6,1182.2 1429.0,1182.2 1430.8,1182.2 C1432.7,1182.3 1435.1,1182.8 1436.9,1182.8 C1438.7,1182.8 1441.1,1182.7 1442.9,1181.8 C1444.8,1180.9 1447.2,1178.5 1449.0,1176.8 C1450.8,1175.1 1453.2,1171.7 1455.0,1170.3 C1456.9,1169.0 1459.3,1168.9 1461.1,1167.7 C1462.9,1166.6 1465.3,1164.4 1467.1,1162.7 C1469.0,1160.9 1471.4,1157.8 1473.2,1156.2 C1475.0,1154.6 1477.6,1152.8 1479.2,1152.2 C1480.9,1152.2 1482.8,1152.2 1484.3,1152.2 C1485.8,1152.9 1487.8,1155.1 1489.3,1156.6 C1490.8,1158.1 1492.8,1161.2 1494.4,1162.3 C1496.0,1163.3 1498.2,1163.7 1500.0,1163.7 C1501.8,1162.7 1504.5,1159.4 1506.5,1155.9 C1508.4,1152.4 1511.0,1144.6 1513.0,1140.3 C1514.9,1136.1 1517.5,1130.5 1519.4,1127.4 C1521.4,1124.3 1524.0,1121.5 1525.9,1119.6 C1527.9,1117.7 1530.5,1115.9 1532.4,1114.9 C1534.3,1114.0 1536.7,1113.1 1538.9,1113.1 C1541.0,1113.1 1544.5,1114.3 1546.7,1114.9 C1548.8,1115.5 1551.2,1117.0 1553.1,1117.0 C1555.1,1116.9 1557.5,1116.0 1559.6,1114.4 C1561.8,1112.9 1565.1,1109.0 1567.4,1106.6 C1569.7,1104.2 1572.8,1100.9 1575.2,1098.3 C1577.5,1095.8 1580.8,1092.4 1582.9,1089.8 C1585.1,1087.1 1587.7,1082.5 1589.4,1080.7 C1591.2,1078.9 1593.1,1077.8 1594.6,1077.6 C1596.2,1077.6 1598.0,1078.3 1599.8,1079.4 C1601.5,1080.6 1604.5,1084.3 1606.3,1085.4 C1608.0,1086.4 1609.9,1086.4 1611.5,1086.4 C1613.0,1085.9 1615.1,1084.2 1616.6,1082.0 C1618.2,1079.8 1620.3,1075.1 1621.8,1071.6 C1623.4,1068.1 1625.5,1062.2 1627.0,1058.7 C1628.6,1055.2 1630.6,1050.8 1632.2,1048.3 C1633.8,1045.8 1635.6,1043.4 1637.4,1041.8 C1639.1,1040.3 1641.9,1038.8 1643.9,1037.9 C1645.8,1037.0 1648.6,1036.0 1650.3,1035.9 C1652.1,1035.9 1653.8,1036.3 1655.5,1037.2 C1657.3,1038.1 1660.3,1040.7 1662.0,1041.8 C1663.8,1043.0 1665.4,1044.9 1667.2,1044.9 C1668.9,1044.7 1671.5,1042.8 1673.7,1040.5 C1675.8,1038.3 1678.9,1033.1 1681.5,1030.2 C1684.0,1027.3 1688.4,1024.2 1690.5,1021.1 C1692.7,1018.0 1694.2,1012.9 1695.7,1009.4 C1697.3,1005.9 1699.3,1000.5 1700.9,997.8 C1702.4,995.0 1704.7,992.4 1706.1,991.3 C1707.4,990.5 1708.6,990.5 1710.0,990.5 C1711.3,991.1 1713.6,992.9 1715.1,995.2 C1716.7,997.4 1718.8,1002.6 1720.3,1005.5 C1721.9,1008.5 1724.0,1012.5 1725.5,1014.6 C1727.1,1016.8 1729.3,1019.0 1730.7,1019.8 C1732.1,1019.8 1733.2,1019.8 1734.6,1019.8 C1736.0,1018.8 1738.0,1015.1 1739.8,1013.3 C1741.5,1011.6 1744.1,1009.7 1746.3,1008.1 C1748.4,1006.6 1751.9,1004.1 1754.0,1002.9 C1756.2,1001.8 1758.6,1001.1 1760.5,1000.4 C1762.5,999.6 1765.2,997.8 1767.0,997.8 C1768.7,997.8 1770.4,999.0 1772.2,1000.4 C1773.9,1001.7 1776.9,1005.7 1778.7,1006.8 C1780.4,1008.0 1782.1,1008.1 1783.8,1008.1 C1785.6,1007.7 1788.2,1006.2 1790.3,1004.2 C1792.5,1002.3 1795.8,997.6 1798.1,995.2 C1800.4,992.7 1803.7,990.1 1805.9,987.9 C1808.0,985.8 1810.4,982.8 1812.4,980.9 C1814.3,979.0 1816.9,976.2 1818.8,975.2 C1820.8,974.4 1823.6,974.4 1825.3,974.4 C1827.1,974.9 1828.9,976.6 1830.5,978.3 C1832.1,980.1 1834.1,984.3 1835.7,986.1 C1837.2,987.9 1839.1,990.3 1840.9,990.5 C1842.6,990.5 1845.6,989.2 1847.4,987.4 C1849.1,985.6 1851.0,980.9 1852.5,978.3 C1854.1,975.8 1855.8,972.9 1857.7,970.5 C1859.7,968.2 1863.2,964.9 1865.5,962.8 C1867.8,960.6 1871.1,957.7 1873.3,956.3 C1875.4,954.9 1878.0,953.5 1879.8,953.2 C1881.5,953.2 1883.2,953.4 1884.9,954.5 C1886.7,955.5 1889.5,958.8 1891.4,960.2 C1893.4,961.5 1896.9,963.0 1897.9,963.5"/>
<path stroke="#2040ff" d="M252.9,1360.3 C254.0,1360.1 257.6,1359.6 260.2,1359.3 C262.8,1359.0 266.6,1358.6 270.2,1358.3 C273.9,1358.0 280.7,1358.3 284.4,1357.3 C288.0,1355.8 291.4,1350.0 294.4,1348.2 C297.5,1346.4 302.1,1345.3 304.5,1345.2 C306.9,1345.2 308.5,1346.0 310.6,1347.2 C312.7,1348.4 316.2,1352.2 318.6,1353.2 C321.1,1354.2 324.3,1354.2 326.7,1354.2 C329.1,1353.9 332.0,1351.8 334.8,1351.2 C337.5,1350.6 340.9,1350.2 344.8,1350.2 C348.8,1350.2 357.4,1351.2 361.0,1351.2 C364.6,1351.1 366.0,1349.5 369.0,1349.2 C372.1,1349.2 378.1,1349.6 381.1,1349.6 C384.2,1349.5 386.9,1348.2 389.2,1348.2 C391.5,1348.4 394.1,1350.8 396.3,1350.8 C398.4,1350.7 401.2,1348.2 403.3,1347.2 C405.4,1346.2 408.3,1344.3 410.4,1344.2 C412.5,1344.2 415.2,1345.4 417.4,1346.2 C419.7,1346.9 422.5,1348.6 425.5,1349.2 C428.5,1349.8 434.0,1350.1 437.6,1350.2 C441.2,1350.2 446.4,1350.2 449.7,1350.2 C453.0,1349.8 456.8,1347.6 459.8,1347.2 C462.8,1347.2 466.8,1347.2 469.9,1347.2 C472.9,1347.3 476.9,1347.4 479.9,1348.2 C483.0,1349.0 486.7,1351.2 490.0,1352.2 C493.4,1353.2 497.9,1354.5 502.1,1354.9 C506.4,1354.9 514.3,1354.9 518.3,1354.9 C522.2,1354.7 525.3,1353.9 528.3,1353.6 C531.4,1353.4 535.4,1353.2 538.4,1353.2 C541.4,1353.5 545.5,1354.7 548.5,1355.3 C551.5,1355.8 555.0,1356.7 558.6,1356.9 C562.2,1356.9 568.5,1356.7 572.7,1356.3 C576.9,1355.8 583.2,1353.6 586.8,1353.6 C590.4,1353.6 593.6,1356.0 596.9,1356.3 C600.2,1356.3 605.1,1355.5 609.0,1355.3 C612.9,1355.0 618.9,1355.3 623.1,1354.9 C627.3,1354.1 633.9,1350.8 637.2,1350.2 C640.5,1350.2 641.9,1350.4 645.3,1351.2 C648.7,1352.0 656.6,1354.5 660.0,1355.7 C663.4,1356.9 665.6,1358.4 668.1,1359.3 C670.5,1360.2 674.0,1361.9 676.1,1361.9 C678.2,1361.9 680.4,1360.4 682.2,1359.3 C684.0,1358.1 686.4,1355.6 688.2,1354.2 C690.0,1352.9 692.5,1351.5 694.3,1350.2 C696.1,1348.9 698.2,1346.4 700.3,1345.8 C702.4,1345.8 706.3,1345.8 708.4,1346.2 C710.5,1347.2 712.6,1350.7 714.4,1352.2 C716.3,1353.7 718.4,1355.6 720.5,1356.3 C722.6,1356.9 726.1,1356.9 728.6,1356.9 C731.0,1356.7 734.5,1356.3 736.6,1355.3 C738.7,1354.3 740.9,1351.6 742.7,1350.2 C744.5,1348.9 747.2,1346.9 748.7,1346.2 C750.2,1345.6 751.2,1345.6 752.8,1345.6 C754.3,1346.0 757.0,1347.8 758.8,1348.8 C760.6,1349.8 762.7,1351.6 764.8,1352.2 C767.0,1352.9 770.8,1352.9 772.9,1353.2 C775.0,1353.5 777.1,1353.6 779.0,1354.2 C780.8,1354.9 783.2,1356.7 785.0,1357.3 C786.8,1357.9 789.5,1358.3 791.1,1358.3 C792.6,1358.0 794.2,1358.3 795.1,1355.3 C796.0,1351.2 796.2,1337.4 797.1,1331.1 C798.0,1324.7 799.9,1317.3 801.1,1312.9 C802.4,1308.5 804.1,1302.1 805.2,1301.8 C806.2,1301.8 807.1,1308.6 808.2,1310.9 C809.3,1313.2 811.2,1314.8 812.2,1316.9 C813.3,1319.1 814.4,1321.4 815.3,1325.0 C816.2,1328.6 817.4,1336.9 818.3,1341.1 C819.2,1345.4 820.2,1350.5 821.3,1353.2 C822.4,1356.0 823.8,1358.1 825.3,1359.3 C826.9,1360.4 829.6,1360.6 831.4,1360.9 C833.2,1361.2 835.6,1360.9 837.4,1361.3 C839.3,1361.8 841.7,1363.8 843.5,1364.3 C845.3,1364.9 847.7,1364.9 849.5,1364.9 C851.3,1364.6 853.8,1363.3 855.6,1362.3 C857.4,1361.3 859.8,1359.6 861.6,1358.3 C863.4,1356.9 866.0,1354.1 867.7,1353.2 C869.3,1352.3 871.1,1352.2 872.7,1352.2 C874.4,1352.4 876.8,1353.2 878.8,1354.2 C880.7,1355.3 883.9,1357.9 885.8,1359.3 C887.8,1360.7 890.1,1362.1 891.9,1363.3 C893.7,1364.5 896.1,1366.4 897.9,1367.4 C899.7,1368.4 902.2,1369.5 904.0,1370.0 C905.8,1370.4 908.2,1370.4 910.0,1370.4 C911.8,1370.3 914.6,1370.1 916.1,1369.4 C917.6,1368.6 918.9,1367.2 920.1,1365.3 C921.3,1363.5 922.8,1359.2 924.1,1357.3 C925.5,1355.3 927.7,1354.5 929.2,1352.2 C930.7,1350.0 932.7,1344.9 934.2,1342.2 C935.7,1339.4 937.7,1335.3 939.3,1334.1 C940.8,1334.1 942.8,1334.1 944.3,1334.1 C945.8,1335.0 947.8,1338.8 949.3,1340.1 C950.9,1341.5 952.9,1343.0 954.4,1343.2 C955.9,1343.2 957.9,1342.2 959.4,1341.1 C960.9,1340.1 963.0,1337.8 964.5,1336.1 C966.0,1334.4 968.0,1332.2 969.5,1330.1 C971.0,1327.9 973.0,1324.0 974.5,1322.0 C976.1,1320.0 978.2,1317.9 979.6,1316.9 C980.9,1315.9 982.3,1315.3 983.6,1315.3 C985.0,1315.6 987.1,1317.7 988.7,1319.0 C990.2,1320.2 992.0,1322.7 993.7,1323.6 C995.4,1324.5 998.1,1325.0 999.8,1325.0 C1001.4,1324.9 1003.4,1323.3 1004.8,1322.6 C1006.2,1321.8 1007.6,1320.2 1008.8,1320.0 C1010.0,1320.0 1012.0,1320.0 1012.9,1321.0 C1013.8,1323.6 1014.3,1334.1 1014.9,1337.1 C1015.5,1340.1 1016.1,1341.1 1016.9,1341.1 C1017.6,1340.2 1019.0,1335.3 1019.9,1331.1 C1020.8,1326.8 1022.0,1318.7 1022.9,1312.9 C1023.8,1307.2 1025.1,1298.0 1026.0,1292.8 C1026.9,1287.5 1027.9,1281.4 1029.0,1277.6 C1030.0,1273.8 1031.8,1269.6 1033.0,1267.5 C1034.2,1265.5 1035.7,1264.8 1037.1,1264.1 C1038.4,1263.4 1040.6,1262.9 1042.1,1262.9 C1043.6,1263.1 1045.6,1263.9 1047.1,1265.5 C1048.6,1267.1 1050.7,1270.4 1052.2,1273.6 C1053.7,1276.8 1055.9,1282.3 1057.2,1286.7 C1058.6,1291.1 1060.0,1298.6 1061.3,1302.8 C1062.5,1307.1 1064.1,1312.1 1065.3,1314.9 C1066.5,1317.8 1068.0,1321.4 1069.3,1322.0 C1070.7,1322.0 1072.8,1319.6 1074.4,1319.0 C1076.0,1318.4 1078.2,1319.0 1080.0,1317.9 C1081.8,1316.9 1084.2,1314.0 1086.0,1311.9 C1087.9,1309.8 1090.3,1305.7 1092.1,1303.8 C1093.9,1301.9 1096.2,1300.3 1098.1,1299.4 C1100.1,1298.5 1103.4,1297.8 1105.2,1297.8 C1107.0,1298.3 1108.7,1300.4 1110.2,1302.8 C1111.8,1305.2 1113.8,1310.6 1115.3,1313.9 C1116.8,1317.2 1118.8,1322.3 1120.3,1325.0 C1121.8,1327.7 1123.7,1330.6 1125.4,1332.0 C1127.0,1333.5 1129.8,1334.5 1131.4,1334.5 C1133.1,1334.2 1134.9,1332.5 1136.5,1330.0 C1138.0,1327.5 1140.1,1321.9 1141.5,1317.9 C1142.9,1314.0 1144.3,1307.9 1145.5,1303.8 C1146.7,1299.7 1148.4,1293.5 1149.6,1290.7 C1150.8,1287.9 1152.4,1286.0 1153.6,1285.3 C1154.8,1285.3 1156.3,1285.3 1157.6,1286.1 C1159.0,1287.3 1161.3,1290.8 1162.7,1293.7 C1164.0,1296.7 1165.5,1302.2 1166.7,1305.8 C1167.9,1309.5 1169.5,1314.6 1170.7,1317.9 C1171.9,1321.3 1173.4,1325.3 1174.8,1328.0 C1176.1,1330.7 1178.4,1334.2 1179.8,1336.1 C1181.2,1338.0 1182.6,1339.9 1183.8,1340.7 C1185.1,1341.6 1186.7,1341.7 1187.9,1341.7 C1189.1,1341.3 1190.7,1339.8 1191.9,1338.1 C1193.1,1336.3 1194.6,1333.0 1195.9,1330.0 C1197.3,1327.0 1199.5,1320.8 1201.0,1317.9 C1202.5,1315.1 1204.6,1312.2 1206.0,1310.9 C1207.5,1309.5 1209.3,1308.9 1210.7,1308.9 C1212.0,1308.9 1213.5,1309.5 1215.1,1310.9 C1216.7,1312.2 1219.3,1315.4 1221.1,1317.9 C1223.0,1320.5 1225.4,1325.1 1227.2,1328.0 C1229.0,1330.9 1231.4,1334.7 1233.2,1337.1 C1235.1,1339.5 1237.6,1342.6 1239.3,1344.1 C1241.0,1345.7 1242.8,1346.9 1244.3,1347.2 C1245.8,1347.2 1247.9,1347.2 1249.4,1346.2 C1250.9,1344.9 1253.1,1341.8 1254.4,1339.1 C1255.8,1336.4 1257.2,1331.5 1258.4,1328.0 C1259.7,1324.5 1261.3,1318.6 1262.5,1315.9 C1263.7,1313.2 1265.3,1310.8 1266.5,1309.9 C1267.7,1309.9 1269.3,1309.9 1270.5,1309.9 C1271.8,1310.6 1273.4,1312.5 1274.6,1314.9 C1275.8,1317.3 1277.4,1322.7 1278.6,1326.0 C1279.8,1329.3 1281.3,1334.1 1282.6,1337.1 C1284.0,1340.1 1286.2,1343.7 1287.7,1346.2 C1289.2,1348.6 1291.4,1351.9 1292.7,1353.2 C1294.1,1354.5 1295.4,1354.8 1296.8,1354.8 C1298.1,1354.7 1300.3,1353.5 1301.8,1352.2 C1303.3,1350.9 1305.3,1348.6 1306.8,1346.2 C1308.3,1343.7 1310.4,1339.1 1311.9,1336.1 C1313.4,1333.0 1315.6,1328.3 1316.9,1326.0 C1318.3,1323.7 1319.7,1321.9 1321.0,1321.0 C1322.2,1320.0 1323.6,1319.3 1325.0,1319.3 C1326.3,1319.6 1328.4,1321.4 1330.0,1323.0 C1331.7,1324.6 1334.3,1327.9 1336.1,1330.0 C1337.9,1332.1 1340.3,1335.0 1342.1,1337.1 C1343.9,1339.2 1346.4,1342.0 1348.2,1344.1 C1350.0,1346.3 1352.6,1349.7 1354.2,1351.2 C1355.9,1352.7 1357.7,1354.1 1359.3,1354.2 C1360.8,1354.2 1362.8,1353.4 1364.3,1352.2 C1365.8,1351.0 1368.0,1348.9 1369.3,1346.2 C1370.7,1343.4 1372.2,1337.8 1373.4,1334.1 C1374.6,1330.3 1376.0,1324.3 1377.4,1321.0 C1378.8,1317.6 1381.2,1313.9 1382.4,1311.9 C1383.7,1309.9 1384.4,1307.4 1385.5,1307.4 C1386.5,1307.4 1388.1,1309.4 1389.5,1311.9 C1390.9,1314.4 1393.0,1320.5 1394.5,1324.0 C1396.1,1327.5 1398.1,1332.0 1399.6,1335.1 C1401.1,1338.1 1403.1,1342.2 1404.6,1344.1 C1406.1,1346.0 1408.2,1347.3 1409.7,1347.8 C1411.2,1347.8 1413.2,1347.8 1414.7,1347.2 C1416.2,1346.3 1418.2,1344.2 1419.8,1342.1 C1421.3,1340.0 1423.3,1336.1 1424.8,1333.0 C1426.3,1330.0 1428.5,1324.7 1429.8,1322.0 C1431.2,1319.2 1432.7,1316.4 1433.9,1314.9 C1435.1,1313.5 1436.5,1312.6 1437.9,1312.3 C1439.3,1312.3 1441.4,1312.3 1442.9,1312.9 C1444.5,1313.9 1446.5,1317.0 1448.0,1318.9 C1449.5,1320.9 1451.4,1324.0 1453.0,1326.0 C1454.7,1328.0 1457.3,1330.4 1459.1,1332.0 C1460.9,1333.7 1463.5,1335.6 1465.1,1337.1 C1466.8,1338.6 1468.6,1341.4 1470.2,1342.1 C1471.7,1342.1 1473.7,1342.1 1475.2,1342.1 C1476.7,1341.5 1478.9,1339.9 1480.2,1338.1 C1481.6,1336.3 1483.1,1333.0 1484.3,1330.0 C1485.5,1327.0 1487.1,1321.4 1488.3,1317.9 C1489.5,1314.4 1491.1,1309.3 1492.3,1306.8 C1493.5,1304.4 1495.2,1302.7 1496.4,1301.8 C1497.5,1301.0 1498.7,1301.0 1500.0,1301.0 C1501.3,1302.1 1503.6,1305.3 1505.2,1308.8 C1506.7,1312.3 1508.8,1319.9 1510.4,1324.4 C1511.9,1328.8 1514.0,1335.5 1515.6,1338.6 C1517.1,1341.7 1519.0,1343.9 1520.7,1345.1 C1522.5,1346.3 1525.3,1346.4 1527.2,1346.4 C1529.2,1346.2 1531.8,1345.6 1533.7,1343.8 C1535.6,1342.1 1538.2,1337.5 1540.2,1334.7 C1542.1,1332.0 1544.7,1327.5 1546.7,1325.7 C1548.6,1323.8 1551.2,1322.6 1553.1,1322.6 C1555.1,1322.6 1557.5,1324.2 1559.6,1325.7 C1561.8,1327.1 1565.1,1330.4 1567.4,1332.2 C1569.7,1333.9 1572.8,1336.2 1575.2,1337.3 C1577.5,1338.5 1580.6,1339.6 1582.9,1339.9 C1585.3,1339.9 1588.6,1339.9 1590.7,1339.4 C1592.9,1338.8 1595.3,1337.7 1597.2,1336.0 C1599.2,1334.4 1601.7,1330.1 1603.7,1328.3 C1605.6,1326.4 1608.4,1324.0 1610.2,1323.6 C1611.9,1323.6 1613.6,1324.4 1615.4,1325.7 C1617.1,1327.0 1619.9,1330.8 1621.8,1332.2 C1623.8,1333.5 1626.0,1334.7 1628.3,1334.7 C1630.6,1334.7 1634.9,1332.5 1637.4,1332.2 C1639.9,1332.2 1642.8,1332.2 1645.2,1332.2 C1647.5,1332.3 1650.8,1332.9 1652.9,1332.9 C1655.1,1332.7 1657.5,1331.8 1659.4,1330.9 C1661.4,1329.9 1663.8,1327.0 1665.9,1326.5 C1668.0,1326.5 1671.3,1327.4 1673.7,1327.5 C1676.0,1327.5 1679.3,1327.4 1681.5,1327.0 C1683.6,1326.5 1686.0,1325.9 1687.9,1324.4 C1689.9,1322.8 1692.5,1318.9 1694.4,1316.6 C1696.4,1314.3 1699.1,1310.1 1700.9,1308.8 C1702.6,1308.3 1704.3,1308.3 1706.1,1308.3 C1707.8,1309.1 1710.6,1312.2 1712.6,1314.0 C1714.5,1315.8 1717.1,1319.4 1719.0,1320.5 C1721.0,1321.3 1723.4,1321.3 1725.5,1321.3 C1727.7,1321.1 1731.2,1319.9 1733.3,1319.2 C1735.4,1318.5 1737.8,1318.0 1739.8,1316.6 C1741.7,1315.2 1744.1,1311.6 1746.3,1310.1 C1748.4,1308.7 1751.7,1307.0 1754.0,1307.0 C1756.4,1307.0 1759.5,1309.1 1761.8,1310.1 C1764.1,1311.1 1767.3,1313.5 1769.6,1313.5 C1771.9,1313.5 1775.0,1310.9 1777.4,1310.1 C1779.7,1309.3 1782.8,1308.4 1785.1,1308.0 C1787.5,1308.0 1790.6,1308.0 1792.9,1308.0 C1795.2,1307.6 1798.4,1306.6 1800.7,1304.9 C1803.0,1303.3 1806.1,1299.1 1808.5,1297.2 C1810.8,1295.2 1814.1,1292.4 1816.2,1292.0 C1818.4,1292.0 1820.8,1293.4 1822.7,1294.6 C1824.7,1295.7 1827.1,1298.8 1829.2,1299.8 C1831.3,1300.7 1834.6,1301.0 1837.0,1301.0 C1839.3,1301.0 1842.6,1300.7 1844.8,1300.3 C1846.9,1299.9 1849.3,1300.1 1851.2,1298.5 C1853.2,1296.8 1855.8,1292.1 1857.7,1289.4 C1859.7,1286.7 1862.4,1282.1 1864.2,1280.3 C1865.9,1278.6 1867.6,1277.7 1869.4,1277.7 C1871.1,1277.9 1873.9,1280.1 1875.9,1281.6 C1877.8,1283.1 1880.4,1286.3 1882.3,1287.6 C1884.3,1288.9 1886.5,1290.0 1888.8,1290.2 C1891.2,1290.2 1896.5,1289.1 1897.9,1288.9"/>
</g>
<g fill="#000" shape-rendering="crispEdges">
<rect x="243" y="156" width="1725" height="6"/>
<rect x="243" y="1541" width="1725" height="6"/>
<rect x="243" y="156" width="6" height="1391"/>
<rect x="1962" y="156" width="6" height="1391"/>
<rect x="248" y="162" width="6" height="24"/>
<rect x="248" y="1517" width="6" height="24"/>
<rect x="362" y="162" width="6" height="11"/>
<rect x="362" y="1530" width="6" height="11"/>
<rect x="476" y="162" width="6" height="24"/>
<rect x="476" y="1517" width="6" height="24"/>
<rect x="591" y="162" width="6" height="11"/>
<rect x="591" y="1530" width="6" height="11"/>
<rect x="705" y="162" width="6" height="24"/>
<rect x="705" y="1517" width="6" height="24"/>
<rect x="819" y="162" width="6" height="11"/>
<rect x="819" y="1530" width="6" height="11"/>
<rect x="933" y="162" width="6" height="24"/>
<rect x="933" y="1517" width="6" height="24"/>
<rect x="1047" y="162" width="6" height="11"/>
<rect x="1047" y="1530" width="6" height="11"/>
<rect x="1162" y="162" width="6" height="24"/>
<rect x="1162" y="1517" width="6" height="24"/>
<rect x="1276" y="162" width="6" height="11"/>
<rect x="1276" y="1530" width="6" height="11"/>
<rect x="1390" y="162" width="6" height="24"/>
<rect x="1390" y="1517" width="6" height="24"/>
<rect x="1504" y="162" width="6" height="11"/>
<rect x="1504" y="1530" width="6" height="11"/>
<rect x="1618" y="162" width="6" height="24"/>
<rect x="1618" y="1517" width="6" height="24"/>
<rect x="1733" y="162" width="6" height="11"/>
<rect x="1733" y="1530" width="6" height="11"/>
<rect x="1847" y="162" width="6" height="24"/>
<rect x="1847" y="1517" width="6" height="24"/>
<rect x="249" y="331" width="24" height="6"/>
<rect x="1938" y="331" width="24" height="6"/>
<rect x="249" y="698" width="24" height="6"/>
<rect x="1938" y="698" width="24" height="6"/>
<rect x="249" y="1065" width="24" height="5"/>
<rect x="1938" y="1065" width="24" height="5"/>
<rect x="249" y="1431" width="24" height="5"/>
<rect x="1938" y="1431" width="24" height="5"/>
</g>
<g shape-rendering="crispEdges">
<rect x="243.0" y="1044.0" width="1720.0" height="499.5" fill="#c0c0c0" fill-opacity="0.34"/>
<rect x="246.7" y="1042.0" width="20.0" height="4.0" fill="#000" fill-opacity="0.36"/>
<rect x="248.4" y="1042.0" width="2.5" height="4.0" fill="#000" fill-opacity="0.36"/>
<rect x="262.4" y="1042.0" width="2.5" height="4.0" fill="#000" fill-opacity="0.36"/>
<rect x="280.4" y="1042.0" width="20.0" height="4.0" fill="#000" fill-opacity="0.36"/>
<rect x="282.1" y="1042.0" width="2.5" height="4.0" fill="#000" fill-opacity="0.36"/>
<rect x="296.1" y="1042.0" width="2.5" height="4.0" fill="#000" fill-opacity="0.36"/>
<rect x="314.1" y="1042.0" width="20.0" height="4.0" fill="#000" fill-opacity="0.36"/>
<rect x="315.8" y="1042.0" width="2.5" height="4.0" fill="#000" fill-opacity="0.36"/>
<rect x="329.8" y="1042.0" width="2.5" height="4.0" fill="#000" fill-opacity="0.36"/>
<rect x="347.8" y="1042.0" width="20.0" height="4.0" fill="#000" fill-opacity="0.36"/>
<rect x="349.5" y="1042.0" width="2.5" height="4.0" fill="#000" fill-opacity="0.36"/>
<rect x="363.5" y="1042.0" width="2.5" height="4.0" fill="#000" fill-opacity="0.36"/>
<rect x="381.5" y="1042.0" width="20.0" height="4.0" fill="#000" fill-opacity="0.36"/>
<rect x="383.2" y="1042.0" width="2.5" height="4.0" fill="#000" fill-opacity="0.36"/>
<rect x="397.2" y="1042.0" width="2.5" height="4.0" fill="#000" fill-opacity="0.36"/>
<rect x="415.2" y="1042.0" width="20.0" height="4.0" fill="#000" fill-opacity="0.36"/>
<rect x="416.9" y="1042.0" width="2.5" height="4.0" fill="#000" fill-opacity="0.36"/>
<rect x="430.9" y="1042.0" width="2.5" height="4.0" fill="#000" fill-opacity="0.36"/>
<rect x="448.9" y="1042.0" width="20.0" height="4.0" fill="#000" fill-opacity="0.36"/>
<rect x="450.6" y="1042.0" width="2.5" height="4.0" fill="#000" fill-opacity="0.36"/>
<rect x="464.6" y="1042.0" width="2.5" height="4.0" fill="#000" fill-opacity="0.36"/>
<rect x="482.6" y="1042.0" width="20.0" height="4.0" fill="#000" fill-opacity="0.36"/>
<rect x="484.3" y="1042.0" width="2.5" height="4.0" fill="#000" fill-opacity="0.36"/>
<rect x="498.3" y="1042.0" width="2.5" height="4.0" fill="#000" fill-opacity="0.36"/>
<rect x="516.3" y="1042.0" width="20.0" height="4.0" fill="#000" fill-opacity="0.36"/>
<rect x="518.0" y="1042.0" width="2.5" height="4.0" fill="#000" fill-opacity="0.36"/>
<rect x="532.0" y="1042.0" width="2.5" height="4.0" fill="#000" fill-opacity="0.36"/>
<rect x="550.0" y="1042.0" width="20.0" height="4.0" fill="#000" fill-opacity="0.36"/>
<rect x="551.8" y="1042.0" width="2.5" height="4.0" fill="#000" fill-opacity="0.36"/>
<rect x="565.8" y="1042.0" width="2.5" height="4.0" fill="#000" fill-opacity="0.36"/>
<rect x="583.7" y="1042.0" width="20.0" height="4.0" fill="#000" fill-opacity="0.36"/>
<rect x="585.5" y="1042.0" width="2.5" height="4.0" fill="#000" fill-opacity="0.36"/>
<rect x="599.5" y="1042.0" width="2.5" height="4.0" fill="#000" fill-opacity="0.36"/>
<rect x="617.4" y="1042.0" width="20.0" height="4.0" fill="#000" fill-opacity="0.36"/>
<rect x="619.2" y="1042.0" width="2.5" height="4.0" fill="#000" fill-opacity="0.36"/>
<rect x="633.2" y="1042.0" width="2.5" height="4.0" fill="#000" fill-opacity="0.36"/>
<rect x="651.1" y="1042.0" width="20.0" height="4.0" fill="#000" fill-opacity="0.36"/>
<rect x="652.9" y="1042.0" width="2.5" height="4.0" fill="#000" fill-opacity="0.36"/>
<rect x="666.9" y="1042.0" width="2.5" height="4.0" fill="#000" fill-opacity="0.36"/>
<rect x="684.8" y="1042.0" width="20.0" height="4.0" fill="#000" fill-opacity="0.36"/>
<rect x="686.6" y="1042.0" width="2.5" height="4.0" fill="#000" fill-opacity="0.36"/>
<rect x="700.6" y="1042.0" width="2.5" height="4.0" fill="#000" fill-opacity="0.36"/>
<rect x="718.5" y="1042.0" width="20.0" height="4.0" fill="#000" fill-opacity="0.36"/>
<rect x="720.3" y="1042.0" width="2.5" height="4.0" fill="#000" fill-opacity="0.36"/>
<rect x="734.3" y="1042.0" width="2.5" height="4.0" fill="#000" fill-opacity="0.36"/>
<rect x="752.2" y="1042.0" width="20.0" height="4.0" fill="#000" fill-opacity="0.36"/>
<rect x="754.0" y="1042.0" width="2.5" height="4.0" fill="#000" fill-opacity="0.36"/>
<rect x="768.0" y="1042.0" width="2.5" height="4.0" fill="#000" fill-opacity="0.36"/>
<rect x="785.9" y="1042.0" width="20.0" height="4.0" fill="#000" fill-opacity="0.36"/>
<rect x="787.7" y="1042.0" width="2.5" height="4.0" fill="#000" fill-opacity="0.36"/>
<rect x="801.7" y="1042.0" width="2.5" height="4.0" fill="#000" fill-opacity="0.36"/>
<rect x="819.6" y="1042.0" width="20.0" height="4.0" fill="#000" fill-opacity="0.36"/>
<rect x="821.4" y="1042.0" width="2.5" height="4.0" fill="#000" fill-opacity="0.36"/>
<rect x="835.4" y="1042.0" width="2.5" height="4.0" fill="#000" fill-opacity="0.36"/>
<rect x="853.3" y="1042.0" width="20.0" height="4.0" fill="#000" fill-opacity="0.36"/>
<rect x="855.1" y="1042.0" width="2.5" height="4.0" fill="#000" fill-opacity="0.36"/>
<rect x="869.1" y="1042.0" width="2.5" height="4.0" fill="#000" fill-opacity="0.36"/>
<rect x="887.0" y="1042.0" width="20.0" height="4.0" fill="#000" fill-opacity="0.36"/>
<rect x="888.8" y="1042.0" width="2.5" height="4.0" fill="#000" fill-opacity="0.36"/>
<rect x="902.8" y="1042.0" width="2.5" height="4.0" fill="#000" fill-opacity="0.36"/>
<rect x="920.7" y="1042.0" width="20.0" height="4.0" fill="#000" fill-opacity="0.36"/>
<rect x="922.5" y="1042.0" width="2.5" height="4.0" fill="#000" fill-opacity="0.36"/>
<rect x="936.5" y="1042.0" width="2.5" height="4.0" fill="#000" fill-opacity="0.36"/>
<rect x="954.4" y="1042.0" width="20.0" height="4.0" fill="#000" fill-opacity="0.36"/>
<rect x="956.2" y="1042.0" width="2.5" height="4.0" fill="#000" fill-opacity="0.36"/>
<rect x="970.2" y="1042.0" width="2.5" height="4.0" fill="#000" fill-opacity="0.36"/>
<rect x="988.1" y="1042.0" width="20.0" height="4.0" fill="#000" fill-opacity="0.36"/>
<rect x="989.9" y="1042.0" width="2.5" height="4.0" fill="#000" fill-opacity="0.36"/>
<rect x="1003.9" y="1042.0" width="2.5" height="4.0" fill="#000" fill-opacity="0.36"/>
<rect x="1021.8" y="1042.0" width="20.0" height="4.0" fill="#000" fill-opacity="0.36"/>
<rect x="1023.6" y="1042.0" width="2.5" height="4.0" fill="#000" fill-opacity="0.36"/>
<rect x="1037.6" y="1042.0" width="2.5" height="4.0" fill="#000" fill-opacity="0.36"/>
<rect x="1055.5" y="1042.0" width="20.0" height="4.0" fill="#000" fill-opacity="0.36"/>
<rect x="1057.3" y="1042.0" width="2.5" height="4.0" fill="#000" fill-opacity="0.36"/>
<rect x="1071.3" y="1042.0" width="2.5" height="4.0" fill="#000" fill-opacity="0.36"/>
<rect x="1089.2" y="1042.0" width="20.0" height="4.0" fill="#000" fill-opacity="0.36"/>
<rect x="1091.0" y="1042.0" width="2.5" height="4.0" fill="#000" fill-opacity="0.36"/>
<rect x="1105.0" y="1042.0" width="2.5" height="4.0" fill="#000" fill-opacity="0.36"/>
<rect x="1122.9" y="1042.0" width="20.0" height="4.0" fill="#000" fill-opacity="0.36"/>
<rect x="1124.7" y="1042.0" width="2.5" height="4.0" fill="#000" fill-opacity="0.36"/>
<rect x="1138.7" y="1042.0" width="2.5" height="4.0" fill="#000" fill-opacity="0.36"/>
<rect x="1156.6" y="1042.0" width="20.0" height="4.0" fill="#000" fill-opacity="0.36"/>
<rect x="1158.4" y="1042.0" width="2.5" height="4.0" fill="#000" fill-opacity="0.36"/>
<rect x="1172.4" y="1042.0" width="2.5" height="4.0" fill="#000" fill-opacity="0.36"/>
<rect x="1190.3" y="1042.0" width="20.0" height="4.0" fill="#000" fill-opacity="0.36"/>
<rect x="1192.1" y="1042.0" width="2.5" height="4.0" fill="#000" fill-opacity="0.36"/>
<rect x="1206.1" y="1042.0" width="2.5" height="4.0" fill="#000" fill-opacity="0.36"/>
<rect x="1224.0" y="1042.0" width="20.0" height="4.0" fill="#000" fill-opacity="0.36"/>
<rect x="1225.8" y="1042.0" width="2.5" height="4.0" fill="#000" fill-opacity="0.36"/>
<rect x="1239.8" y="1042.0" width="2.5" height="4.0" fill="#000" fill-opacity="0.36"/>
<rect x="1257.7" y="1042.0" width="20.0" height="4.0" fill="#000" fill-opacity="0.36"/>
<rect x="1259.5" y="1042.0" width="2.5" height="4.0" fill="#000" fill-opacity="0.36"/>
<rect x="1273.5" y="1042.0" width="2.5" height="4.0" fill="#000" fill-opacity="0.36"/>
<rect x="1291.4" y="1042.0" width="20.0" height="4.0" fill="#000" fill-opacity="0.36"/>
<rect x="1293.2" y="1042.0" width="2.5" height="4.0" fill="#000" fill-opacity="0.36"/>
<rect x="1307.2" y="1042.0" width="2.5" height="4.0" fill="#000" fill-opacity="0.36"/>
<rect x="1325.1" y="1042.0" width="20.0" height="4.0" fill="#000" fill-opacity="0.36"/>
<rect x="1326.9" y="1042.0" width="2.5" height="4.0" fill="#000" fill-opacity="0.36"/>
<rect x="1340.9" y="1042.0" width="2.5" height="4.0" fill="#000" fill-opacity="0.36"/>
<rect x="1358.8" y="1042.0" width="20.0" height="4.0" fill="#000" fill-opacity="0.36"/>
<rect x="1360.6" y="1042.0" width="2.5" height="4.0" fill="#000" fill-opacity="0.36"/>
<rect x="1374.6" y="1042.0" width="2.5" height="4.0" fill="#000" fill-opacity="0.36"/>
<rect x="1392.5" y="1042.0" width="20.0" height="4.0" fill="#000" fill-opacity="0.36"/>
<rect x="1394.3" y="1042.0" width="2.5" height="4.0" fill="#000" fill-opacity="0.36"/>
<rect x="1408.3" y="1042.0" width="2.5" height="4.0" fill="#000" fill-opacity="0.36"/>
<rect x="1426.2" y="1042.0" width="20.0" height="4.0" fill="#000" fill-opacity="0.36"/>
<rect x="1428.0" y="1042.0" width="2.5" height="4.0" fill="#000" fill-opacity="0.36"/>
<rect x="1442.0" y="1042.0" width="2.5" height="4.0" fill="#000" fill-opacity="0.36"/>
<rect x="1459.9" y="1042.0" width="20.0" height="4.0" fill="#000" fill-opacity="0.36"/>
<rect x="1461.7" y="1042.0" width="2.5" height="4.0" fill="#000" fill-opacity="0.36"/>
<rect x="1475.7" y="1042.0" width="2.5" height="4.0" fill="#000" fill-opacity="0.36"/>
<rect x="1493.6" y="1042.0" width="20.0" height="4.0" fill="#000" fill-opacity="0.36"/>
<rect x="1495.4" y="1042.0" width="2.5" height="4.0" fill="#000" fill-opacity="0.36"/>
<rect x="1509.4" y="1042.0" width="2.5" height="4.0" fill="#000" fill-opacity="0.36"/>
<rect x="1527.3" y="1042.0" width="20.0" height="4.0" fill="#000" fill-opacity="0.36"/>
<rect x="1529.1" y="1042.0" width="2.5" height="4.0" fill="#000" fill-opacity="0.36"/>
<rect x="1543.1" y="1042.0" width="2.5" height="4.0" fill="#000" fill-opacity="0.36"/>
<rect x="1561.0" y="1042.0" width="20.0" height="4.0" fill="#000" fill-opacity="0.36"/>
<rect x="1562.8" y="1042.0" width="2.5" height="4.0" fill="#000" fill-opacity="0.36"/>
<rect x="1576.8" y="1042.0" width="2.5" height="4.0" fill="#000" fill-opacity="0.36"/>
<rect x="1594.7" y="1042.0" width="20.0" height="4.0" fill="#000" fill-opacity="0.36"/>
<rect x="1596.5" y="1042.0" width="2.5" height="4.0" fill="#000" fill-opacity="0.36"/>
<rect x="1610.5" y="1042.0" width="2.5" height="4.0" fill="#000" fill-opacity="0.36"/>
<rect x="1628.4" y="1042.0" width="20.0" height="4.0" fill="#000" fill-opacity="0.36"/>
<rect x="1630.2" y="1042.0" width="2.5" height="4.0" fill="#000" fill-opacity="0.36"/>
<rect x="1644.2" y="1042.0" width="2.5" height="4.0" fill="#000" fill-opacity="0.36"/>
<rect x="1662.1" y="1042.0" width="20.0" height="4.0" fill="#000" fill-opacity="0.36"/>
<rect x="1663.9" y="1042.0" width="2.5" height="4.0" fill="#000" fill-opacity="0.36"/>
<rect x="1677.9" y="1042.0" width="2.5" height="4.0" fill="#000" fill-opacity="0.36"/>
<rect x="1695.8" y="1042.0" width="20.0" height="4.0" fill="#000" fill-opacity="0.36"/>
<rect x="1697.6" y="1042.0" width="2.5" height="4.0" fill="#000" fill-opacity="0.36"/>
<rect x="1711.6" y="1042.0" width="2.5" height="4.0" fill="#000" fill-opacity="0.36"/>
<rect x="1729.5" y="1042.0" width="20.0" height="4.0" fill="#000" fill-opacity="0.36"/>
<rect x="1731.3" y="1042.0" width="2.5" height="4.0" fill="#000" fill-opacity="0.36"/>
<rect x="1745.3" y="1042.0" width="2.5" height="4.0" fill="#000" fill-opacity="0.36"/>
<rect x="1763.2" y="1042.0" width="20.0" height="4.0" fill="#000" fill-opacity="0.36"/>
<rect x="1765.0" y="1042.0" width="2.5" height="4.0" fill="#000" fill-opacity="0.36"/>
<rect x="1779.0" y="1042.0" width="2.5" height="4.0" fill="#000" fill-opacity="0.36"/>
<rect x="1796.9" y="1042.0" width="20.0" height="4.0" fill="#000" fill-opacity="0.36"/>
<rect x="1798.7" y="1042.0" width="2.5" height="4.0" fill="#000" fill-opacity="0.36"/>
<rect x="1812.7" y="1042.0" width="2.5" height="4.0" fill="#000" fill-opacity="0.36"/>
<rect x="1830.6" y="1042.0" width="20.0" height="4.0" fill="#000" fill-opacity="0.36"/>
<rect x="1832.4" y="1042.0" width="2.5" height="4.0" fill="#000" fill-opacity="0.36"/>
<rect x="1846.4" y="1042.0" width="2.5" height="4.0" fill="#000" fill-opacity="0.36"/>
<rect x="1864.3" y="1042.0" width="20.0" height="4.0" fill="#000" fill-opacity="0.36"/>
<rect x="1866.1" y="1042.0" width="2.5" height="4.0" fill="#000" fill-opacity="0.36"/>
<rect x="1880.1" y="1042.0" width="2.5" height="4.0" fill="#000" fill-opacity="0.36"/>
<rect x="1898.0" y="1042.0" width="20.0" height="4.0" fill="#000" fill-opacity="0.36"/>
<rect x="1899.8" y="1042.0" width="2.5" height="4.0" fill="#000" fill-opacity="0.36"/>
<rect x="1913.8" y="1042.0" width="2.5" height="4.0" fill="#000" fill-opacity="0.36"/>
<rect x="1931.7" y="1042.0" width="20.0" height="4.0" fill="#000" fill-opacity="0.36"/>
<rect x="1933.5" y="1042.0" width="2.5" height="4.0" fill="#000" fill-opacity="0.36"/>
<rect x="1947.5" y="1042.0" width="2.5" height="4.0" fill="#000" fill-opacity="0.36"/>
<rect x="1933.6" y="1541.5" width="20.0" height="4.0" fill="#000" fill-opacity="0.36"/>
<rect x="1935.3" y="1541.5" width="2.5" height="4.0" fill="#000" fill-opacity="0.36"/>
<rect x="1949.3" y="1541.5" width="2.5" height="4.0" fill="#000" fill-opacity="0.36"/>
<rect x="1899.9" y="1541.5" width="20.0" height="4.0" fill="#000" fill-opacity="0.36"/>
<rect x="1901.6" y="1541.5" width="2.5" height="4.0" fill="#000" fill-opacity="0.36"/>
<rect x="1915.6" y="1541.5" width="2.5" height="4.0" fill="#000" fill-opacity="0.36"/>
<rect x="1866.2" y="1541.5" width="20.0" height="4.0" fill="#000" fill-opacity="0.36"/>
<rect x="1867.9" y="1541.5" width="2.5" height="4.0" fill="#000" fill-opacity="0.36"/>
<rect x="1881.9" y="1541.5" width="2.5" height="4.0" fill="#000" fill-opacity="0.36"/>
<rect x="1832.5" y="1541.5" width="20.0" height="4.0" fill="#000" fill-opacity="0.36"/>
<rect x="1834.2" y="1541.5" width="2.5" height="4.0" fill="#000" fill-opacity="0.36"/>
<rect x="1848.2" y="1541.5" width="2.5" height="4.0" fill="#000" fill-opacity="0.36"/>
<rect x="1798.8" y="1541.5" width="20.0" height="4.0" fill="#000" fill-opacity="0.36"/>
<rect x="1800.5" y="1541.5" width="2.5" height="4.0" fill="#000" fill-opacity="0.36"/>
<rect x="1814.5" y="1541.5" width="2.5" height="4.0" fill="#000" fill-opacity="0.36"/>
<rect x="1765.1" y="1541.5" width="20.0" height="4.0" fill="#000" fill-opacity="0.36"/>
<rect x="1766.8" y="1541.5" width="2.5" height="4.0" fill="#000" fill-opacity="0.36"/>
<rect x="1780.8" y="1541.5" width="2.5" height="4.0" fill="#000" fill-opacity="0.36"/>
<rect x="1731.4" y="1541.5" width="20.0" height="4.0" fill="#000" fill-opacity="0.36"/>
<rect x="1733.1" y="1541.5" width="2.5" height="4.0" fill="#000" fill-opacity="0.36"/>
<rect x="1747.1" y="1541.5" width="2.5" height="4.0" fill="#000" fill-opacity="0.36"/>
<rect x="1697.7" y="1541.5" width="20.0" height="4.0" fill="#000" fill-opacity="0.36"/>
<rect x="1699.4" y="1541.5" width="2.5" height="4.0" fill="#000" fill-opacity="0.36"/>
<rect x="1713.4" y="1541.5" width="2.5" height="4.0" fill="#000" fill-opacity="0.36"/>
<rect x="1664.0" y="1541.5" width="20.0" height="4.0" fill="#000" fill-opacity="0.36"/>
<rect x="1665.7" y="1541.5" width="2.5" height="4.0" fill="#000" fill-opacity="0.36"/>
<rect x="1679.7" y="1541.5" width="2.5" height="4.0" fill="#000" fill-opacity="0.36"/>
<rect x="1630.3" y="1541.5" width="20.0" height="4.0" fill="#000" fill-opacity="0.36"/>
<rect x="1632.0" y="1541.5" width="2.5" height="4.0" fill="#000" fill-opacity="0.36"/>
<rect x="1646.0" y="1541.5" width="2.5" height="4.0" fill="#000" fill-opacity="0.36"/>
<rect x="1596.6" y="1541.5" width="20.0" height="4.0" fill="#000" fill-opacity="0.36"/>
<rect x="1598.3" y="1541.5" width="2.5" height="4.0" fill="#000" fill-opacity="0.36"/>
<rect x="1612.3" y="1541.5" width="2.5" height="4.0" fill="#000" fill-opacity="0.36"/>
<rect x="1562.9" y="1541.5" width="20.0" height="4.0" fill="#000" fill-opacity="0.36"/>
<rect x="1564.6" y="1541.5" width="2.5" height="4.0" fill="#000" fill-opacity="0.36"/>
<rect x="1578.6" y="1541.5" width="2.5" height="4.0" fill="#000" fill-opacity="0.36"/>
<rect x="1529.2" y="1541.5" width="20.0" height="4.0" fill="#000" fill-opacity="0.36"/>
<rect x="1530.9" y="1541.5" width="2.5" height="4.0" fill="#000" fill-opacity="0.36"/>
<rect x="1544.9" y="1541.5" width="2.5" height="4.0" fill="#000" fill-opacity="0.36"/>
<rect x="1495.5" y="1541.5" width="20.0" height="4.0" fill="#000" fill-opacity="0.36"/>
<rect x="1497.2" y="1541.5" width="2.5" height="4.0" fill="#000" fill-opacity="0.36"/>
<rect x="1511.2" y="1541.5" width="2.5" height="4.0" fill="#000" fill-opacity="0.36"/>
<rect x="1461.8" y="1541.5" width="20.0" height="4.0" fill="#000" fill-opacity="0.36"/>
<rect x="1463.5" y="1541.5" width="2.5" height="4.0" fill="#000" fill-opacity="0.36"/>
<rect x="1477.5" y="1541.5" width="2.5" height="4.0" fill="#000" fill-opacity="0.36"/>
<rect x="1428.1" y="1541.5" width="20.0" height="4.0" fill="#000" fill-opacity="0.36"/>
<rect x="1429.8" y="1541.5" width="2.5" height="4.0" fill="#000" fill-opacity="0.36"/>
<rect x="1443.8" y="1541.5" width="2.5" height="4.0" fill="#000" fill-opacity="0.36"/>
<rect x="1394.4" y="1541.5" width="20.0" height="4.0" fill="#000" fill-opacity="0.36"/>
<rect x="1396.1" y="1541.5" width="2.5" height="4.0" fill="#000" fill-opacity="0.36"/>
<rect x="1410.1" y="1541.5" width="2.5" height="4.0" fill="#000" fill-opacity="0.36"/>
<rect x="1360.7" y="1541.5" width="20.0" height="4.0" fill="#000" fill-opacity="0.36"/>
<rect x="1362.4" y="1541.5" width="2.5" height="4.0" fill="#000" fill-opacity="0.36"/>
<rect x="1376.4" y="1541.5" width="2.5" height="4.0" fill="#000" fill-opacity="0.36"/>
<rect x="1327.0" y="1541.5" width="20.0" height="4.0" fill="#000" fill-opacity="0.36"/>
<rect x="1328.7" y="1541.5" width="2.5" height="4.0" fill="#000" fill-opacity="0.36"/>
<rect x="1342.7" y="1541.5" width="2.5" height="4.0" fill="#000" fill-opacity="0.36"/>
<rect x="1293.3" y="1541.5" width="20.0" height="4.0" fill="#000" fill-opacity="0.36"/>
<rect x="1295.0" y="1541.5" width="2.5" height="4.0" fill="#000" fill-opacity="0.36"/>
<rect x="1309.0" y="1541.5" width="2.5" height="4.0" fill="#000" fill-opacity="0.36"/>
<rect x="1259.6" y="1541.5" width="20.0" height="4.0" fill="#000" fill-opacity="0.36"/>
<rect x="1261.3" y="1541.5" width="2.5" height="4.0" fill="#000" fill-opacity="0.36"/>
<rect x="1275.3" y="1541.5" width="2.5" height="4.0" fill="#000" fill-opacity="0.36"/>
<rect x="1225.9" y="1541.5" width="20.0" height="4.0" fill="#000" fill-opacity="0.36"/>
<rect x="1227.6" y="1541.5" width="2.5" height="4.0" fill="#000" fill-opacity="0.36"/>
<rect x="1241.6" y="1541.5" width="2.5" height="4.0" fill="#000" fill-opacity="0.36"/>
<rect x="1192.2" y="1541.5" width="20.0" height="4.0" fill="#000" fill-opacity="0.36"/>
<rect x="1193.9" y="1541.5" width="2.5" height="4.0" fill="#000" fill-opacity="0.36"/>
<rect x="1207.9" y="1541.5" width="2.5" height="4.0" fill="#000" fill-opacity="0.36"/>
<rect x="1158.5" y="1541.5" width="20.0" height="4.0" fill="#000" fill-opacity="0.36"/>
<rect x="1160.2" y="1541.5" width="2.5" height="4.0" fill="#000" fill-opacity="0.36"/>
<rect x="1174.2" y="1541.5" width="2.5" height="4.0" fill="#000" fill-opacity="0.36"/>
<rect x="1124.8" y="1541.5" width="20.0" height="4.0" fill="#000" fill-opacity="0.36"/>
<rect x="1126.5" y="1541.5" width="2.5" height="4.0" fill="#000" fill-opacity="0.36"/>
<rect x="1140.5" y="1541.5" width="2.5" height="4.0" fill="#000" fill-opacity="0.36"/>
<rect x="1091.1" y="1541.5" width="20.0" height="4.0" fill="#000" fill-opacity="0.36"/>
<rect x="1092.8" y="1541.5" width="2.5" height="4.0" fill="#000" fill-opacity="0.36"/>
<rect x="1106.8" y="1541.5" width="2.5" height="4.0" fill="#000" fill-opacity="0.36"/>
<rect x="1057.4" y="1541.5" width="20.0" height="4.0" fill="#000" fill-opacity="0.36"/>
<rect x="1059.1" y="1541.5" width="2.5" height="4.0" fill="#000" fill-opacity="0.36"/>
<rect x="1073.1" y="1541.5" width="2.5" height="4.0" fill="#000" fill-opacity="0.36"/>
<rect x="1023.7" y="1541.5" width="20.0" height="4.0" fill="#000" fill-opacity="0.36"/>
<rect x="1025.4" y="1541.5" width="2.5" height="4.0" fill="#000" fill-opacity="0.36"/>
<rect x="1039.4" y="1541.5" width="2.5" height="4.0" fill="#000" fill-opacity="0.36"/>
<rect x="990.0" y="1541.5" width="20.0" height="4.0" fill="#000" fill-opacity="0.36"/>
<rect x="991.7" y="1541.5" width="2.5" height="4.0" fill="#000" fill-opacity="0.36"/>
<rect x="1005.7" y="1541.5" width="2.5" height="4.0" fill="#000" fill-opacity="0.36"/>
<rect x="956.3" y="1541.5" width="20.0" height="4.0" fill="#000" fill-opacity="0.36"/>
<rect x="958.0" y="1541.5" width="2.5" height="4.0" fill="#000" fill-opacity="0.36"/>
<rect x="972.0" y="1541.5" width="2.5" height="4.0" fill="#000" fill-opacity="0.36"/>
<rect x="922.6" y="1541.5" width="20.0" height="4.0" fill="#000" fill-opacity="0.36"/>
<rect x="924.3" y="1541.5" width="2.5" height="4.0" fill="#000" fill-opacity="0.36"/>
<rect x="938.3" y="1541.5" width="2.5" height="4.0" fill="#000" fill-opacity="0.36"/>
<rect x="888.9" y="1541.5" width="20.0" height="4.0" fill="#000" fill-opacity="0.36"/>
<rect x="890.6" y="1541.5" width="2.5" height="4.0" fill="#000" fill-opacity="0.36"/>
<rect x="904.6" y="1541.5" width="2.5" height="4.0" fill="#000" fill-opacity="0.36"/>
<rect x="855.2" y="1541.5" width="20.0" height="4.0" fill="#000" fill-opacity="0.36"/>
<rect x="856.9" y="1541.5" width="2.5" height="4.0" fill="#000" fill-opacity="0.36"/>
<rect x="870.9" y="1541.5" width="2.5" height="4.0" fill="#000" fill-opacity="0.36"/>
<rect x="821.5" y="1541.5" width="20.0" height="4.0" fill="#000" fill-opacity="0.36"/>
<rect x="823.2" y="1541.5" width="2.5" height="4.0" fill="#000" fill-opacity="0.36"/>
<rect x="837.2" y="1541.5" width="2.5" height="4.0" fill="#000" fill-opacity="0.36"/>
<rect x="787.8" y="1541.5" width="20.0" height="4.0" fill="#000" fill-opacity="0.36"/>
<rect x="789.5" y="1541.5" width="2.5" height="4.0" fill="#000" fill-opacity="0.36"/>
<rect x="803.5" y="1541.5" width="2.5" height="4.0" fill="#000" fill-opacity="0.36"/>
<rect x="754.1" y="1541.5" width="20.0" height="4.0" fill="#000" fill-opacity="0.36"/>
<rect x="755.8" y="1541.5" width="2.5" height="4.0" fill="#000" fill-opacity="0.36"/>
<rect x="769.8" y="1541.5" width="2.5" height="4.0" fill="#000" fill-opacity="0.36"/>
<rect x="720.4" y="1541.5" width="20.0" height="4.0" fill="#000" fill-opacity="0.36"/>
<rect x="722.1" y="1541.5" width="2.5" height="4.0" fill="#000" fill-opacity="0.36"/>
<rect x="736.1" y="1541.5" width="2.5" height="4.0" fill="#000" fill-opacity="0.36"/>
<rect x="686.7" y="1541.5" width="20.0" height="4.0" fill="#000" fill-opacity="0.36"/>
<rect x="688.4" y="1541.5" width="2.5" height="4.0" fill="#000" fill-opacity="0.36"/>
<rect x="702.4" y="1541.5" width="2.5" height="4.0" fill="#000" fill-opacity="0.36"/>
<rect x="653.0" y="1541.5" width="20.0" height="4.0" fill="#000" fill-opacity="0.36"/>
<rect x="654.7" y="1541.5" width="2.5" height="4.0" fill="#000" fill-opacity="0.36"/>
<rect x="668.7" y="1541.5" width="2.5" height="4.0" fill="#000" fill-opacity="0.36"/>
<rect x="619.3" y="1541.5" width="20.0" height="4.0" fill="#000" fill-opacity="0.36"/>
<rect x="621.0" y="1541.5" width="2.5" height="4.0" fill="#000" fill-opacity="0.36"/>
<rect x="635.0" y="1541.5" width="2.5" height="4.0" fill="#000" fill-opacity="0.36"/>
<rect x="585.6" y="1541.5" width="20.0" height="4.0" fill="#000" fill-opacity="0.36"/>
<rect x="587.3" y="1541.5" width="2.5" height="4.0" fill="#000" fill-opacity="0.36"/>
<rect x="601.3" y="1541.5" width="2.5" height="4.0" fill="#000" fill-opacity="0.36"/>
<rect x="551.9" y="1541.5" width="20.0" height="4.0" fill="#000" fill-opacity="0.36"/>
<rect x="553.6" y="1541.5" width="2.5" height="4.0" fill="#000" fill-opacity="0.36"/>
<rect x="567.6" y="1541.5" width="2.5" height="4.0" fill="#000" fill-opacity="0.36"/>
<rect x="518.2" y="1541.5" width="20.0" height="4.0" fill="#000" fill-opacity="0.36"/>
<rect x="519.9" y="1541.5" width="2.5" height="4.0" fill="#000" fill-opacity="0.36"/>
<rect x="533.9" y="1541.5" width="2.5" height="4.0" fill="#000" fill-opacity="0.36"/>
<rect x="484.5" y="1541.5" width="20.0" height="4.0" fill="#000" fill-opacity="0.36"/>
<rect x="486.2" y="1541.5" width="2.5" height="4.0" fill="#000" fill-opacity="0.36"/>
<rect x="500.2" y="1541.5" width="2.5" height="4.0" fill="#000" fill-opacity="0.36"/>
<rect x="450.8" y="1541.5" width="20.0" height="4.0" fill="#000" fill-opacity="0.36"/>
<rect x="452.5" y="1541.5" width="2.5" height="4.0" fill="#000" fill-opacity="0.36"/>
<rect x="466.5" y="1541.5" width="2.5" height="4.0" fill="#000" fill-opacity="0.36"/>
<rect x="417.1" y="1541.5" width="20.0" height="4.0" fill="#000" fill-opacity="0.36"/>
<rect x="418.8" y="1541.5" width="2.5" height="4.0" fill="#000" fill-opacity="0.36"/>
<rect x="432.8" y="1541.5" width="2.5" height="4.0" fill="#000" fill-opacity="0.36"/>
<rect x="383.4" y="1541.5" width="20.0" height="4.0" fill="#000" fill-opacity="0.36"/>
<rect x="385.1" y="1541.5" width="2.5" height="4.0" fill="#000" fill-opacity="0.36"/>
<rect x="399.1" y="1541.5" width="2.5" height="4.0" fill="#000" fill-opacity="0.36"/>
<rect x="349.7" y="1541.5" width="20.0" height="4.0" fill="#000" fill-opacity="0.36"/>
<rect x="351.4" y="1541.5" width="2.5" height="4.0" fill="#000" fill-opacity="0.36"/>
<rect x="365.4" y="1541.5" width="2.5" height="4.0" fill="#000" fill-opacity="0.36"/>
<rect x="316.0" y="1541.5" width="20.0" height="4.0" fill="#000" fill-opacity="0.36"/>
<rect x="317.7" y="1541.5" width="2.5" height="4.0" fill="#000" fill-opacity="0.36"/>
<rect x="331.7" y="1541.5" width="2.5" height="4.0" fill="#000" fill-opacity="0.36"/>
<rect x="282.3" y="1541.5" width="20.0" height="4.0" fill="#000" fill-opacity="0.36"/>
<rect x="284.0" y="1541.5" width="2.5" height="4.0" fill="#000" fill-opacity="0.36"/>
<rect x="298.0" y="1541.5" width="2.5" height="4.0" fill="#000" fill-opacity="0.36"/>
<rect x="248.6" y="1541.5" width="20.0" height="4.0" fill="#000" fill-opacity="0.36"/>
<rect x="250.3" y="1541.5" width="2.5" height="4.0" fill="#000" fill-opacity="0.36"/>
<rect x="264.3" y="1541.5" width="2.5" height="4.0" fill="#000" fill-opacity="0.36"/>
<rect x="241.0" y="1055.0" width="4.0" height="19.0" fill="#000" fill-opacity="0.36"/>
<rect x="241.0" y="1056.8" width="4.0" height="2.5" fill="#000" fill-opacity="0.36"/>
<rect x="241.0" y="1070.8" width="4.0" height="2.5" fill="#000" fill-opacity="0.36"/>
<rect x="241.0" y="1088.7" width="4.0" height="19.0" fill="#000" fill-opacity="0.36"/>
<rect x="241.0" y="1090.5" width="4.0" height="2.5" fill="#000" fill-opacity="0.36"/>
<rect x="241.0" y="1104.5" width="4.0" height="2.5" fill="#000" fill-opacity="0.36"/>
<rect x="241.0" y="1122.4" width="4.0" height="19.0" fill="#000" fill-opacity="0.36"/>
<rect x="241.0" y="1124.2" width="4.0" height="2.5" fill="#000" fill-opacity="0.36"/>
<rect x="241.0" y="1138.2" width="4.0" height="2.5" fill="#000" fill-opacity="0.36"/>
<rect x="241.0" y="1156.1" width="4.0" height="19.0" fill="#000" fill-opacity="0.36"/>
<rect x="241.0" y="1157.9" width="4.0" height="2.5" fill="#000" fill-opacity="0.36"/>
<rect x="241.0" y="1171.9" width="4.0" height="2.5" fill="#000" fill-opacity="0.36"/>
<rect x="241.0" y="1189.8" width="4.0" height="19.0" fill="#000" fill-opacity="0.36"/>
<rect x="241.0" y="1191.6" width="4.0" height="2.5" fill="#000" fill-opacity="0.36"/>
<rect x="241.0" y="1205.6" width="4.0" height="2.5" fill="#000" fill-opacity="0.36"/>
<rect x="241.0" y="1223.5" width="4.0" height="19.0" fill="#000" fill-opacity="0.36"/>
<rect x="241.0" y="1225.3" width="4.0" height="2.5" fill="#000" fill-opacity="0.36"/>
<rect x="241.0" y="1239.3" width="4.0" height="2.5" fill="#000" fill-opacity="0.36"/>
<rect x="241.0" y="1257.2" width="4.0" height="19.0" fill="#000" fill-opacity="0.36"/>
<rect x="241.0" y="1259.0" width="4.0" height="2.5" fill="#000" fill-opacity="0.36"/>
<rect x="241.0" y="1273.0" width="4.0" height="2.5" fill="#000" fill-opacity="0.36"/>
<rect x="241.0" y="1290.9" width="4.0" height="19.0" fill="#000" fill-opacity="0.36"/>
<rect x="241.0" y="1292.7" width="4.0" height="2.5" fill="#000" fill-opacity="0.36"/>
<rect x="241.0" y="1306.7" width="4.0" height="2.5" fill="#000" fill-opacity="0.36"/>
<rect x="241.0" y="1324.6" width="4.0" height="19.0" fill="#000" fill-opacity="0.36"/>
<rect x="241.0" y="1326.4" width="4.0" height="2.5" fill="#000" fill-opacity="0.36"/>
<rect x="241.0" y="1340.4" width="4.0" height="2.5" fill="#000" fill-opacity="0.36"/>
<rect x="241.0" y="1358.3" width="4.0" height="19.0" fill="#000" fill-opacity="0.36"/>
<rect x="241.0" y="1360.1" width="4.0" height="2.5" fill="#000" fill-opacity="0.36"/>
<rect x="241.0" y="1374.1" width="4.0" height="2.5" fill="#000" fill-opacity="0.36"/>
<rect x="241.0" y="1392.0" width="4.0" height="19.0" fill="#000" fill-opacity="0.36"/>
<rect x="241.0" y="1393.8" width="4.0" height="2.5" fill="#000" fill-opacity="0.36"/>
<rect x="241.0" y="1407.8" width="4.0" height="2.5" fill="#000" fill-opacity="0.36"/>
<rect x="241.0" y="1425.7" width="4.0" height="19.0" fill="#000" fill-opacity="0.36"/>
<rect x="241.0" y="1427.5" width="4.0" height="2.5" fill="#000" fill-opacity="0.36"/>
<rect x="241.0" y="1441.5" width="4.0" height="2.5" fill="#000" fill-opacity="0.36"/>
<rect x="241.0" y="1459.4" width="4.0" height="19.0" fill="#000" fill-opacity="0.36"/>
<rect x="241.0" y="1461.2" width="4.0" height="2.5" fill="#000" fill-opacity="0.36"/>
<rect x="241.0" y="1475.2" width="4.0" height="2.5" fill="#000" fill-opacity="0.36"/>
<rect x="241.0" y="1493.1" width="4.0" height="19.0" fill="#000" fill-opacity="0.36"/>
<rect x="241.0" y="1494.9" width="4.0" height="2.5" fill="#000" fill-opacity="0.36"/>
<rect x="241.0" y="1508.9" width="4.0" height="2.5" fill="#000" fill-opacity="0.36"/>
<rect x="241.0" y="1526.8" width="4.0" height="18.7" fill="#000" fill-opacity="0.36"/>
<rect x="241.0" y="1528.6" width="4.0" height="2.5" fill="#000" fill-opacity="0.36"/>
<rect x="241.0" y="1542.6" width="4.0" height="2.5" fill="#000" fill-opacity="0.36"/>
<rect x="1961.0" y="1047.4" width="4.0" height="20.0" fill="#000" fill-opacity="0.36"/>
<rect x="1961.0" y="1049.2" width="4.0" height="2.5" fill="#000" fill-opacity="0.36"/>
<rect x="1961.0" y="1063.2" width="4.0" height="2.5" fill="#000" fill-opacity="0.36"/>
<rect x="1961.0" y="1081.1" width="4.0" height="20.0" fill="#000" fill-opacity="0.36"/>
<rect x="1961.0" y="1082.9" width="4.0" height="2.5" fill="#000" fill-opacity="0.36"/>
<rect x="1961.0" y="1096.9" width="4.0" height="2.5" fill="#000" fill-opacity="0.36"/>
<rect x="1961.0" y="1114.8" width="4.0" height="20.0" fill="#000" fill-opacity="0.36"/>
<rect x="1961.0" y="1116.6" width="4.0" height="2.5" fill="#000" fill-opacity="0.36"/>
<rect x="1961.0" y="1130.6" width="4.0" height="2.5" fill="#000" fill-opacity="0.36"/>
<rect x="1961.0" y="1148.5" width="4.0" height="20.0" fill="#000" fill-opacity="0.36"/>
<rect x="1961.0" y="1150.3" width="4.0" height="2.5" fill="#000" fill-opacity="0.36"/>
<rect x="1961.0" y="1164.3" width="4.0" height="2.5" fill="#000" fill-opacity="0.36"/>
<rect x="1961.0" y="1182.2" width="4.0" height="20.0" fill="#000" fill-opacity="0.36"/>
<rect x="1961.0" y="1184.0" width="4.0" height="2.5" fill="#000" fill-opacity="0.36"/>
<rect x="1961.0" y="1198.0" width="4.0" height="2.5" fill="#000" fill-opacity="0.36"/>
<rect x="1961.0" y="1215.9" width="4.0" height="20.0" fill="#000" fill-opacity="0.36"/>
<rect x="1961.0" y="1217.7" width="4.0" height="2.5" fill="#000" fill-opacity="0.36"/>
<rect x="1961.0" y="1231.7" width="4.0" height="2.5" fill="#000" fill-opacity="0.36"/>
<rect x="1961.0" y="1249.6" width="4.0" height="20.0" fill="#000" fill-opacity="0.36"/>
<rect x="1961.0" y="1251.4" width="4.0" height="2.5" fill="#000" fill-opacity="0.36"/>
<rect x="1961.0" y="1265.4" width="4.0" height="2.5" fill="#000" fill-opacity="0.36"/>
<rect x="1961.0" y="1283.3" width="4.0" height="20.0" fill="#000" fill-opacity="0.36"/>
<rect x="1961.0" y="1285.1" width="4.0" height="2.5" fill="#000" fill-opacity="0.36"/>
<rect x="1961.0" y="1299.1" width="4.0" height="2.5" fill="#000" fill-opacity="0.36"/>
<rect x="1961.0" y="1317.0" width="4.0" height="20.0" fill="#000" fill-opacity="0.36"/>
<rect x="1961.0" y="1318.8" width="4.0" height="2.5" fill="#000" fill-opacity="0.36"/>
<rect x="1961.0" y="1332.8" width="4.0" height="2.5" fill="#000" fill-opacity="0.36"/>
<rect x="1961.0" y="1350.7" width="4.0" height="20.0" fill="#000" fill-opacity="0.36"/>
<rect x="1961.0" y="1352.5" width="4.0" height="2.5" fill="#000" fill-opacity="0.36"/>
<rect x="1961.0" y="1366.5" width="4.0" height="2.5" fill="#000" fill-opacity="0.36"/>
<rect x="1961.0" y="1384.4" width="4.0" height="20.0" fill="#000" fill-opacity="0.36"/>
<rect x="1961.0" y="1386.2" width="4.0" height="2.5" fill="#000" fill-opacity="0.36"/>
<rect x="1961.0" y="1400.2" width="4.0" height="2.5" fill="#000" fill-opacity="0.36"/>
<rect x="1961.0" y="1418.1" width="4.0" height="20.0" fill="#000" fill-opacity="0.36"/>
<rect x="1961.0" y="1419.9" width="4.0" height="2.5" fill="#000" fill-opacity="0.36"/>
<rect x="1961.0" y="1433.9" width="4.0" height="2.5" fill="#000" fill-opacity="0.36"/>
<rect x="1961.0" y="1451.8" width="4.0" height="20.0" fill="#000" fill-opacity="0.36"/>
<rect x="1961.0" y="1453.6" width="4.0" height="2.5" fill="#000" fill-opacity="0.36"/>
<rect x="1961.0" y="1467.6" width="4.0" height="2.5" fill="#000" fill-opacity="0.36"/>
<rect x="1961.0" y="1485.5" width="4.0" height="20.0" fill="#000" fill-opacity="0.36"/>
<rect x="1961.0" y="1487.3" width="4.0" height="2.5" fill="#000" fill-opacity="0.36"/>
<rect x="1961.0" y="1501.3" width="4.0" height="2.5" fill="#000" fill-opacity="0.36"/>
<rect x="1961.0" y="1519.2" width="4.0" height="20.0" fill="#000" fill-opacity="0.36"/>
<rect x="1961.0" y="1521.0" width="4.0" height="2.5" fill="#000" fill-opacity="0.36"/>
<rect x="1961.0" y="1535.0" width="4.0" height="2.5" fill="#000" fill-opacity="0.36"/>
</g>
<rect x="166" y="26" width="1956" height="92" fill="#fff" stroke="#000" stroke-width="2" shape-rendering="crispEdges"/>
<rect x="172.0" y="69" width="155.0" height="6" rx="1.5" fill="#ff0000"/>
<rect x="602.0" y="69" width="154.0" height="6" rx="1.5" fill="#009600"/>
<rect x="944.0" y="69" width="155.5" height="6" rx="1.5" fill="#ff8000"/>
<rect x="1334.5" y="69" width="155.0" height="6" rx="1.5" fill="#6a00dc"/>
<rect x="1736.5" y="69" width="155.5" height="6" rx="1.5" fill="#2040ff"/>
<g filter="url(#crisp)">
<g font-size="60" text-anchor="middle">
<text x="251.0" y="1619">0</text>
<text x="479.4" y="1619">2</text>
<text x="707.8" y="1619">4</text>
<text x="936.2" y="1619">6</text>
<text x="1164.6" y="1619">8</text>
<text x="1393.0" y="1619">10</text>
<text x="1621.4" y="1619">12</text>
<text x="1849.8" y="1619">14</text>
</g>
<text x="195.6" y="356.3" font-size="60" text-anchor="end">10</text>
<text x="194.2" y="331.8" font-size="42">2</text>
<text x="195.6" y="722.8" font-size="60" text-anchor="end">10</text>
<text x="194.2" y="698.3" font-size="42">1</text>
<text x="195.6" y="1089.4" font-size="60" text-anchor="end">10</text>
<text x="194.2" y="1064.9" font-size="42">0</text>
<text x="172.5" y="1455.9" font-size="60" text-anchor="end">10</text>
<text x="171.0" y="1431.4" font-size="41.5" textLength="42.6" lengthAdjust="spacingAndGlyphs">−1</text>
<g font-size="71.20">
<text x="875.0" y="1729.6">#</text>
<text x="928.8" y="1729.6">Orbital</text>
<text x="1148.0" y="1729.6">Period</text>
</g>
<text transform="translate(83.0,850.0) rotate(-90)" font-size="72" text-anchor="middle" textLength="912.0" lengthAdjust="spacing">Cramer von Mises Test Statistic</text>
<text x="339.0" y="93.5" font-size="66" letter-spacing="0.00">Cartesian</text>
<text x="769.6" y="93.5" font-size="66" letter-spacing="0.35">EqOE</text>
<text x="1112.6" y="93.5" font-size="66" letter-spacing="0.35">AEqOE</text>
<text x="1502.6" y="93.5" font-size="66" letter-spacing="0.35">J2EqOE</text>
<text x="1903.8" y="93.5" font-size="66" letter-spacing="0.35">GEqOE</text>
</g>
</svg>
</body></html>
